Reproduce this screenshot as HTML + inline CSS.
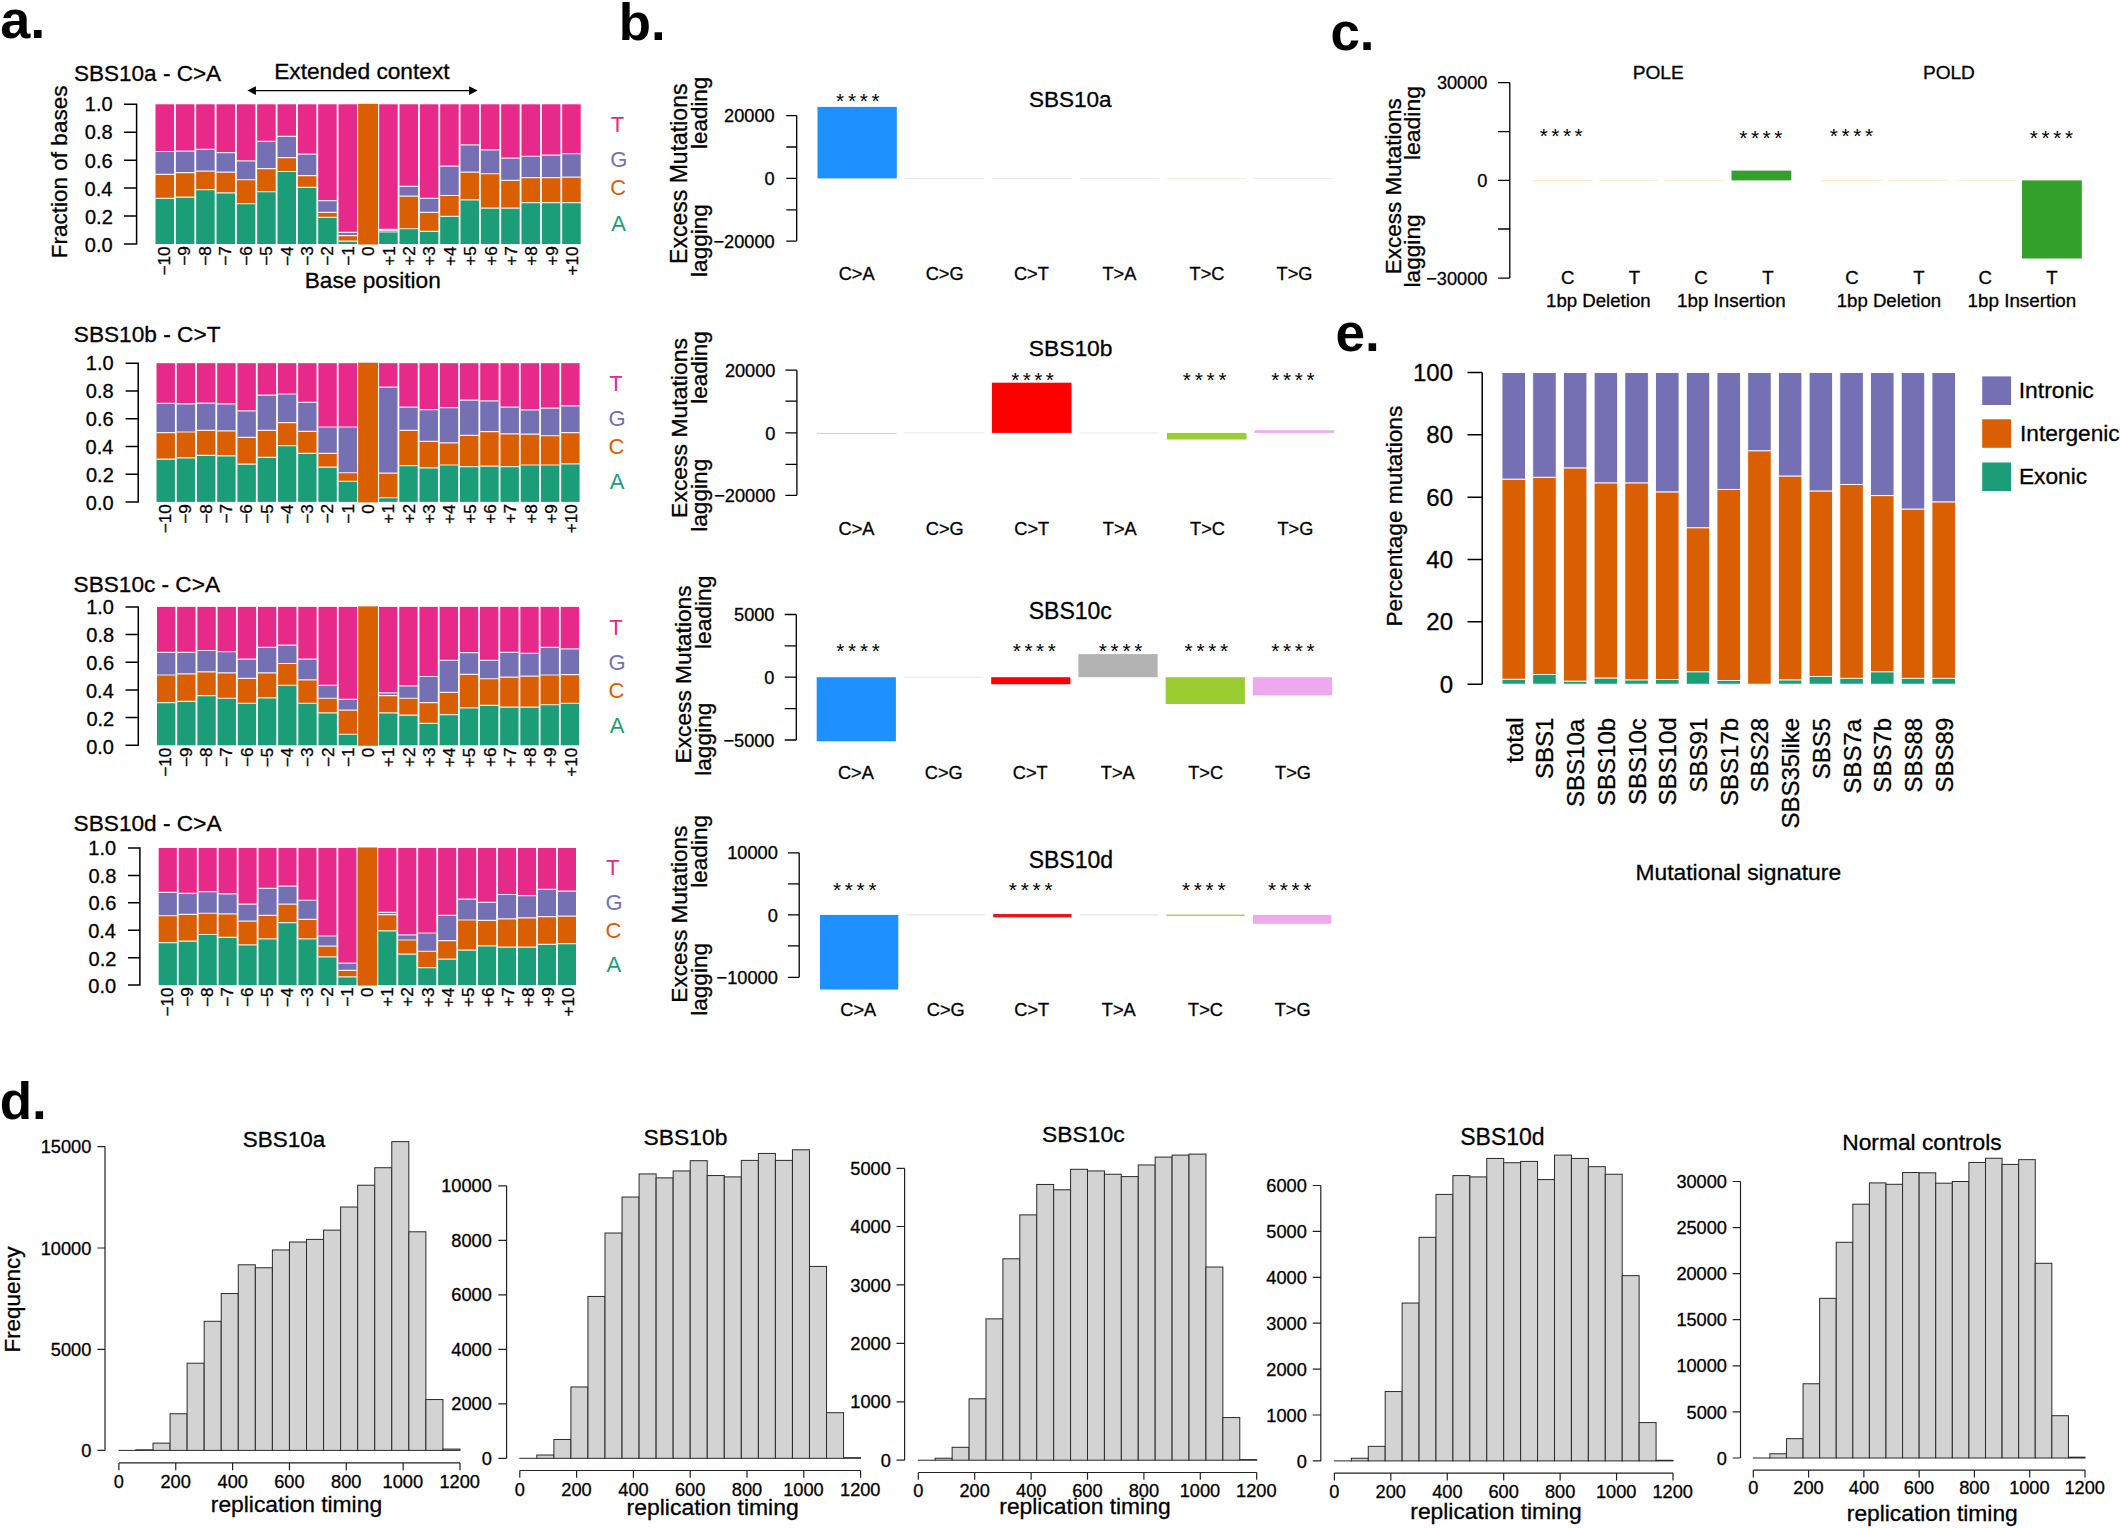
<!DOCTYPE html>
<html lang="en"><head><meta charset="utf-8"><title>Figure</title>
<style>
html,body{margin:0;padding:0;background:#fff;}
body{width:2120px;height:1528px;overflow:hidden;}
svg{display:block;font-family:"Liberation Sans",sans-serif;}
text{stroke:currentColor;stroke-width:0;}
.k text{stroke:#000;stroke-width:0.3px;}
#labels text{stroke-width:0;}
</style></head><body>
<svg width="2120" height="1528" viewBox="0 0 2120 1528" shape-rendering="auto">
<rect x="0" y="0" width="2120" height="1528" fill="#fff"/>
<g class="k">
<g id="pa">
<rect x="155.5" y="198.32" width="18.53" height="45.68" fill="#1B9E77"/>
<rect x="155.5" y="174.43" width="18.53" height="23.89" fill="#D95F02"/>
<rect x="155.5" y="151.52" width="18.53" height="22.91" fill="#7570B3"/>
<rect x="155.5" y="104.3" width="18.53" height="47.22" fill="#E7298A"/>
<rect x="175.83" y="197.2" width="18.53" height="46.8" fill="#1B9E77"/>
<rect x="175.83" y="172.61" width="18.53" height="24.59" fill="#D95F02"/>
<rect x="175.83" y="151.1" width="18.53" height="21.51" fill="#7570B3"/>
<rect x="175.83" y="104.3" width="18.53" height="46.8" fill="#E7298A"/>
<rect x="196.17" y="189.66" width="18.53" height="54.34" fill="#1B9E77"/>
<rect x="196.17" y="171.08" width="18.53" height="18.58" fill="#D95F02"/>
<rect x="196.17" y="149.28" width="18.53" height="21.79" fill="#7570B3"/>
<rect x="196.17" y="104.3" width="18.53" height="44.98" fill="#E7298A"/>
<rect x="216.5" y="192.87" width="18.53" height="51.13" fill="#1B9E77"/>
<rect x="216.5" y="172.19" width="18.53" height="20.68" fill="#D95F02"/>
<rect x="216.5" y="152.64" width="18.53" height="19.56" fill="#7570B3"/>
<rect x="216.5" y="104.3" width="18.53" height="48.34" fill="#E7298A"/>
<rect x="236.83" y="203.77" width="18.53" height="40.23" fill="#1B9E77"/>
<rect x="236.83" y="179.74" width="18.53" height="24.03" fill="#D95F02"/>
<rect x="236.83" y="160.88" width="18.53" height="18.86" fill="#7570B3"/>
<rect x="236.83" y="104.3" width="18.53" height="56.58" fill="#E7298A"/>
<rect x="257.17" y="191.75" width="18.53" height="52.25" fill="#1B9E77"/>
<rect x="257.17" y="168.56" width="18.53" height="23.19" fill="#D95F02"/>
<rect x="257.17" y="141.32" width="18.53" height="27.24" fill="#7570B3"/>
<rect x="257.17" y="104.3" width="18.53" height="37.02" fill="#E7298A"/>
<rect x="277.5" y="171.5" width="18.53" height="72.5" fill="#1B9E77"/>
<rect x="277.5" y="157.67" width="18.53" height="13.83" fill="#D95F02"/>
<rect x="277.5" y="136.29" width="18.53" height="21.37" fill="#7570B3"/>
<rect x="277.5" y="104.3" width="18.53" height="31.99" fill="#E7298A"/>
<rect x="297.83" y="187.42" width="18.53" height="56.58" fill="#1B9E77"/>
<rect x="297.83" y="175.55" width="18.53" height="11.87" fill="#D95F02"/>
<rect x="297.83" y="154.17" width="18.53" height="21.37" fill="#7570B3"/>
<rect x="297.83" y="104.3" width="18.53" height="49.87" fill="#E7298A"/>
<rect x="318.17" y="217.46" width="18.53" height="26.54" fill="#1B9E77"/>
<rect x="318.17" y="212.43" width="18.53" height="5.03" fill="#D95F02"/>
<rect x="318.17" y="200.69" width="18.53" height="11.73" fill="#7570B3"/>
<rect x="318.17" y="104.3" width="18.53" height="96.39" fill="#E7298A"/>
<rect x="338.5" y="241.21" width="18.53" height="2.79" fill="#1B9E77"/>
<rect x="338.5" y="235.62" width="18.53" height="5.59" fill="#D95F02"/>
<rect x="338.5" y="232.4" width="18.53" height="3.21" fill="#7570B3"/>
<rect x="338.5" y="104.3" width="18.53" height="128.1" fill="#E7298A"/>
<rect x="358.13" y="103.8" width="19.93" height="140.7" fill="#D95F02"/>
<rect x="379.17" y="231.99" width="18.53" height="12.01" fill="#1B9E77"/>
<rect x="379.17" y="230.31" width="18.53" height="1.68" fill="#D95F02"/>
<rect x="379.17" y="229.47" width="18.53" height="0.84" fill="#7570B3"/>
<rect x="379.17" y="104.3" width="18.53" height="125.17" fill="#E7298A"/>
<rect x="399.5" y="228.77" width="18.53" height="15.23" fill="#1B9E77"/>
<rect x="399.5" y="196.08" width="18.53" height="32.69" fill="#D95F02"/>
<rect x="399.5" y="186.3" width="18.53" height="9.78" fill="#7570B3"/>
<rect x="399.5" y="104.3" width="18.53" height="82" fill="#E7298A"/>
<rect x="419.83" y="231.43" width="18.53" height="12.57" fill="#1B9E77"/>
<rect x="419.83" y="212.43" width="18.53" height="19" fill="#D95F02"/>
<rect x="419.83" y="198.32" width="18.53" height="14.11" fill="#7570B3"/>
<rect x="419.83" y="104.3" width="18.53" height="94.02" fill="#E7298A"/>
<rect x="440.17" y="216.34" width="18.53" height="27.66" fill="#1B9E77"/>
<rect x="440.17" y="195.52" width="18.53" height="20.82" fill="#D95F02"/>
<rect x="440.17" y="166.05" width="18.53" height="29.48" fill="#7570B3"/>
<rect x="440.17" y="104.3" width="18.53" height="61.75" fill="#E7298A"/>
<rect x="460.5" y="199.85" width="18.53" height="44.15" fill="#1B9E77"/>
<rect x="460.5" y="172.19" width="18.53" height="27.66" fill="#D95F02"/>
<rect x="460.5" y="144.95" width="18.53" height="27.24" fill="#7570B3"/>
<rect x="460.5" y="104.3" width="18.53" height="40.65" fill="#E7298A"/>
<rect x="480.83" y="208.1" width="18.53" height="35.9" fill="#1B9E77"/>
<rect x="480.83" y="173.73" width="18.53" height="34.37" fill="#D95F02"/>
<rect x="480.83" y="149.84" width="18.53" height="23.89" fill="#7570B3"/>
<rect x="480.83" y="104.3" width="18.53" height="45.54" fill="#E7298A"/>
<rect x="501.17" y="208.1" width="18.53" height="35.9" fill="#1B9E77"/>
<rect x="501.17" y="180.44" width="18.53" height="27.66" fill="#D95F02"/>
<rect x="501.17" y="158.08" width="18.53" height="22.35" fill="#7570B3"/>
<rect x="501.17" y="104.3" width="18.53" height="53.78" fill="#E7298A"/>
<rect x="521.5" y="202.65" width="18.53" height="41.35" fill="#1B9E77"/>
<rect x="521.5" y="177.64" width="18.53" height="25.01" fill="#D95F02"/>
<rect x="521.5" y="156.27" width="18.53" height="21.37" fill="#7570B3"/>
<rect x="521.5" y="104.3" width="18.53" height="51.97" fill="#E7298A"/>
<rect x="541.83" y="202.65" width="18.53" height="41.35" fill="#1B9E77"/>
<rect x="541.83" y="177.64" width="18.53" height="25.01" fill="#D95F02"/>
<rect x="541.83" y="155.15" width="18.53" height="22.49" fill="#7570B3"/>
<rect x="541.83" y="104.3" width="18.53" height="50.85" fill="#E7298A"/>
<rect x="562.17" y="202.65" width="18.53" height="41.35" fill="#1B9E77"/>
<rect x="562.17" y="177.22" width="18.53" height="25.43" fill="#D95F02"/>
<rect x="562.17" y="153.75" width="18.53" height="23.47" fill="#7570B3"/>
<rect x="562.17" y="104.3" width="18.53" height="49.45" fill="#E7298A"/>
<path d="M155.5 198.32h18.53M155.5 174.43h18.53M155.5 151.52h18.53M175.83 197.2h18.53M175.83 172.61h18.53M175.83 151.1h18.53M196.17 189.66h18.53M196.17 171.08h18.53M196.17 149.28h18.53M216.5 192.87h18.53M216.5 172.19h18.53M216.5 152.64h18.53M236.83 203.77h18.53M236.83 179.74h18.53M236.83 160.88h18.53M257.17 191.75h18.53M257.17 168.56h18.53M257.17 141.32h18.53M277.5 171.5h18.53M277.5 157.67h18.53M277.5 136.29h18.53M297.83 187.42h18.53M297.83 175.55h18.53M297.83 154.17h18.53M318.17 217.46h18.53M318.17 212.43h18.53M318.17 200.69h18.53M338.5 241.21h18.53M338.5 235.62h18.53M338.5 232.4h18.53M379.17 231.99h18.53M379.17 230.31h18.53M379.17 229.47h18.53M399.5 228.77h18.53M399.5 196.08h18.53M399.5 186.3h18.53M419.83 231.43h18.53M419.83 212.43h18.53M419.83 198.32h18.53M440.17 216.34h18.53M440.17 195.52h18.53M440.17 166.05h18.53M460.5 199.85h18.53M460.5 172.19h18.53M460.5 144.95h18.53M480.83 208.1h18.53M480.83 173.73h18.53M480.83 149.84h18.53M501.17 208.1h18.53M501.17 180.44h18.53M501.17 158.08h18.53M521.5 202.65h18.53M521.5 177.64h18.53M521.5 156.27h18.53M541.83 202.65h18.53M541.83 177.64h18.53M541.83 155.15h18.53M562.17 202.65h18.53M562.17 177.22h18.53M562.17 153.75h18.53" stroke="#fff" stroke-width="1.2" stroke-opacity="0.85" fill="none"/>
<path d="M123.9 104.3H136.6V244H123.9M123.9 216.06H136.6M123.9 188.12H136.6M123.9 160.18H136.6M123.9 132.24H136.6" stroke="#000" stroke-width="1.5" fill="none"/>
<text transform="translate(84.76,252.2)" font-size="20" fill="#000">0.0</text>
<text transform="translate(85,224.02)" font-size="20" fill="#000">0.2</text>
<text transform="translate(84.58,195.84)" font-size="20" fill="#000">0.4</text>
<text transform="translate(84.86,167.66)" font-size="20" fill="#000">0.6</text>
<text transform="translate(84.86,139.48)" font-size="20" fill="#000">0.8</text>
<text transform="translate(84.76,111.3)" font-size="20" fill="#000">1.0</text>
<text transform="translate(73.88,81.1)" font-size="22.56" fill="#000">SBS10a - C&gt;A</text>
<text transform="translate(170.07,275.45) rotate(-90) scale(1.0400,1)" font-size="16.5" fill="#000">−10</text>
<text transform="translate(190.47,265.76) rotate(-90) scale(1.0400,1)" font-size="16.5" fill="#000">−9</text>
<text transform="translate(210.88,265.82) rotate(-90) scale(1.0400,1)" font-size="16.5" fill="#000">−8</text>
<text transform="translate(231.29,265.7) rotate(-90) scale(1.0400,1)" font-size="16.5" fill="#000">−7</text>
<text transform="translate(251.7,265.82) rotate(-90) scale(1.0400,1)" font-size="16.5" fill="#000">−6</text>
<text transform="translate(272.11,265.86) rotate(-90) scale(1.0400,1)" font-size="16.5" fill="#000">−5</text>
<text transform="translate(292.52,266.06) rotate(-90) scale(1.0400,1)" font-size="16.5" fill="#000">−4</text>
<text transform="translate(312.93,265.82) rotate(-90) scale(1.0400,1)" font-size="16.5" fill="#000">−3</text>
<text transform="translate(333.33,265.7) rotate(-90) scale(1.0400,1)" font-size="16.5" fill="#000">−2</text>
<text transform="translate(353.74,265.74) rotate(-90) scale(1.0400,1)" font-size="16.5" fill="#000">−1</text>
<text transform="translate(374.15,255.89) rotate(-90) scale(1.0400,1)" font-size="16.5" fill="#000">0</text>
<text transform="translate(394.56,265.74) rotate(-90) scale(1.0400,1)" font-size="16.5" fill="#000">+1</text>
<text transform="translate(414.97,265.7) rotate(-90) scale(1.0400,1)" font-size="16.5" fill="#000">+2</text>
<text transform="translate(435.38,265.82) rotate(-90) scale(1.0400,1)" font-size="16.5" fill="#000">+3</text>
<text transform="translate(455.78,266.06) rotate(-90) scale(1.0400,1)" font-size="16.5" fill="#000">+4</text>
<text transform="translate(476.19,265.86) rotate(-90) scale(1.0400,1)" font-size="16.5" fill="#000">+5</text>
<text transform="translate(496.6,265.82) rotate(-90) scale(1.0400,1)" font-size="16.5" fill="#000">+6</text>
<text transform="translate(517.01,265.7) rotate(-90) scale(1.0400,1)" font-size="16.5" fill="#000">+7</text>
<text transform="translate(537.42,265.82) rotate(-90) scale(1.0400,1)" font-size="16.5" fill="#000">+8</text>
<text transform="translate(557.82,265.76) rotate(-90) scale(1.0400,1)" font-size="16.5" fill="#000">+9</text>
<text transform="translate(578.23,275.45) rotate(-90) scale(1.0400,1)" font-size="16.5" fill="#000">+10</text>
<text transform="translate(610.82,132.3)" font-size="22" text-anchor="start" fill="#E7298A" style="stroke:none">T</text>
<text transform="translate(610.2,166.8)" font-size="22" text-anchor="start" fill="#7570B3" style="stroke:none">G</text>
<text transform="translate(610.2,195.4)" font-size="22" text-anchor="start" fill="#D95F02" style="stroke:none">C</text>
<text transform="translate(611.26,231.3)" font-size="22" text-anchor="start" fill="#1B9E77" style="stroke:none">A</text>
<rect x="156.5" y="459.18" width="18.43" height="42.72" fill="#1B9E77"/>
<rect x="156.5" y="432.69" width="18.43" height="26.49" fill="#D95F02"/>
<rect x="156.5" y="403.42" width="18.43" height="29.27" fill="#7570B3"/>
<rect x="156.5" y="363.2" width="18.43" height="40.22" fill="#E7298A"/>
<rect x="176.73" y="457.79" width="18.43" height="44.11" fill="#1B9E77"/>
<rect x="176.73" y="432" width="18.43" height="25.8" fill="#D95F02"/>
<rect x="176.73" y="403.84" width="18.43" height="28.16" fill="#7570B3"/>
<rect x="176.73" y="363.2" width="18.43" height="40.64" fill="#E7298A"/>
<rect x="196.97" y="455.3" width="18.43" height="46.6" fill="#1B9E77"/>
<rect x="196.97" y="430.33" width="18.43" height="24.97" fill="#D95F02"/>
<rect x="196.97" y="403.15" width="18.43" height="27.19" fill="#7570B3"/>
<rect x="196.97" y="363.2" width="18.43" height="39.95" fill="#E7298A"/>
<rect x="217.2" y="455.85" width="18.43" height="46.05" fill="#1B9E77"/>
<rect x="217.2" y="430.89" width="18.43" height="24.97" fill="#D95F02"/>
<rect x="217.2" y="403.84" width="18.43" height="27.05" fill="#7570B3"/>
<rect x="217.2" y="363.2" width="18.43" height="40.64" fill="#E7298A"/>
<rect x="237.43" y="464.17" width="18.43" height="37.73" fill="#1B9E77"/>
<rect x="237.43" y="437.4" width="18.43" height="26.77" fill="#D95F02"/>
<rect x="237.43" y="410.91" width="18.43" height="26.49" fill="#7570B3"/>
<rect x="237.43" y="363.2" width="18.43" height="47.71" fill="#E7298A"/>
<rect x="257.67" y="457.38" width="18.43" height="44.52" fill="#1B9E77"/>
<rect x="257.67" y="430.47" width="18.43" height="26.91" fill="#D95F02"/>
<rect x="257.67" y="395.1" width="18.43" height="35.37" fill="#7570B3"/>
<rect x="257.67" y="363.2" width="18.43" height="31.9" fill="#E7298A"/>
<rect x="277.9" y="445.73" width="18.43" height="56.17" fill="#1B9E77"/>
<rect x="277.9" y="422.7" width="18.43" height="23.02" fill="#D95F02"/>
<rect x="277.9" y="393.99" width="18.43" height="28.71" fill="#7570B3"/>
<rect x="277.9" y="363.2" width="18.43" height="30.79" fill="#E7298A"/>
<rect x="298.13" y="453.35" width="18.43" height="48.54" fill="#1B9E77"/>
<rect x="298.13" y="431.3" width="18.43" height="22.05" fill="#D95F02"/>
<rect x="298.13" y="402.31" width="18.43" height="28.99" fill="#7570B3"/>
<rect x="298.13" y="363.2" width="18.43" height="39.11" fill="#E7298A"/>
<rect x="318.37" y="467.22" width="18.43" height="34.67" fill="#1B9E77"/>
<rect x="318.37" y="453.35" width="18.43" height="13.87" fill="#D95F02"/>
<rect x="318.37" y="427" width="18.43" height="26.35" fill="#7570B3"/>
<rect x="318.37" y="363.2" width="18.43" height="63.8" fill="#E7298A"/>
<rect x="338.6" y="481.23" width="18.43" height="20.67" fill="#1B9E77"/>
<rect x="338.6" y="472.77" width="18.43" height="8.46" fill="#D95F02"/>
<rect x="338.6" y="427" width="18.43" height="45.77" fill="#7570B3"/>
<rect x="338.6" y="363.2" width="18.43" height="63.8" fill="#E7298A"/>
<rect x="358.13" y="362.7" width="19.83" height="139.7" fill="#D95F02"/>
<rect x="379.07" y="497.74" width="18.43" height="4.16" fill="#1B9E77"/>
<rect x="379.07" y="473.19" width="18.43" height="24.55" fill="#D95F02"/>
<rect x="379.07" y="387.06" width="18.43" height="86.13" fill="#7570B3"/>
<rect x="379.07" y="363.2" width="18.43" height="23.86" fill="#E7298A"/>
<rect x="399.3" y="465.7" width="18.43" height="36.2" fill="#1B9E77"/>
<rect x="399.3" y="430.33" width="18.43" height="35.37" fill="#D95F02"/>
<rect x="399.3" y="407.03" width="18.43" height="23.3" fill="#7570B3"/>
<rect x="399.3" y="363.2" width="18.43" height="43.83" fill="#E7298A"/>
<rect x="419.53" y="467.78" width="18.43" height="34.12" fill="#1B9E77"/>
<rect x="419.53" y="441.29" width="18.43" height="26.49" fill="#D95F02"/>
<rect x="419.53" y="409.66" width="18.43" height="31.62" fill="#7570B3"/>
<rect x="419.53" y="363.2" width="18.43" height="46.46" fill="#E7298A"/>
<rect x="439.77" y="465.01" width="18.43" height="36.89" fill="#1B9E77"/>
<rect x="439.77" y="442.81" width="18.43" height="22.19" fill="#D95F02"/>
<rect x="439.77" y="407.72" width="18.43" height="35.09" fill="#7570B3"/>
<rect x="439.77" y="363.2" width="18.43" height="44.52" fill="#E7298A"/>
<rect x="460" y="466.67" width="18.43" height="35.23" fill="#1B9E77"/>
<rect x="460" y="435.32" width="18.43" height="31.35" fill="#D95F02"/>
<rect x="460" y="400.09" width="18.43" height="35.23" fill="#7570B3"/>
<rect x="460" y="363.2" width="18.43" height="36.89" fill="#E7298A"/>
<rect x="480.23" y="466.12" width="18.43" height="35.78" fill="#1B9E77"/>
<rect x="480.23" y="431.58" width="18.43" height="34.54" fill="#D95F02"/>
<rect x="480.23" y="400.93" width="18.43" height="30.65" fill="#7570B3"/>
<rect x="480.23" y="363.2" width="18.43" height="37.73" fill="#E7298A"/>
<rect x="500.47" y="466.67" width="18.43" height="35.23" fill="#1B9E77"/>
<rect x="500.47" y="433.8" width="18.43" height="32.87" fill="#D95F02"/>
<rect x="500.47" y="407.03" width="18.43" height="26.77" fill="#7570B3"/>
<rect x="500.47" y="363.2" width="18.43" height="43.83" fill="#E7298A"/>
<rect x="520.7" y="465.01" width="18.43" height="36.89" fill="#1B9E77"/>
<rect x="520.7" y="434.21" width="18.43" height="30.79" fill="#D95F02"/>
<rect x="520.7" y="409.8" width="18.43" height="24.41" fill="#7570B3"/>
<rect x="520.7" y="363.2" width="18.43" height="46.6" fill="#E7298A"/>
<rect x="540.93" y="465.01" width="18.43" height="36.89" fill="#1B9E77"/>
<rect x="540.93" y="435.74" width="18.43" height="29.27" fill="#D95F02"/>
<rect x="540.93" y="408.14" width="18.43" height="27.6" fill="#7570B3"/>
<rect x="540.93" y="363.2" width="18.43" height="44.94" fill="#E7298A"/>
<rect x="561.17" y="463.9" width="18.43" height="38" fill="#1B9E77"/>
<rect x="561.17" y="432.55" width="18.43" height="31.35" fill="#D95F02"/>
<rect x="561.17" y="405.92" width="18.43" height="26.63" fill="#7570B3"/>
<rect x="561.17" y="363.2" width="18.43" height="42.72" fill="#E7298A"/>
<path d="M156.5 459.18h18.43M156.5 432.69h18.43M156.5 403.42h18.43M176.73 457.79h18.43M176.73 432h18.43M176.73 403.84h18.43M196.97 455.3h18.43M196.97 430.33h18.43M196.97 403.15h18.43M217.2 455.85h18.43M217.2 430.89h18.43M217.2 403.84h18.43M237.43 464.17h18.43M237.43 437.4h18.43M237.43 410.91h18.43M257.67 457.38h18.43M257.67 430.47h18.43M257.67 395.1h18.43M277.9 445.73h18.43M277.9 422.7h18.43M277.9 393.99h18.43M298.13 453.35h18.43M298.13 431.3h18.43M298.13 402.31h18.43M318.37 467.22h18.43M318.37 453.35h18.43M318.37 427h18.43M338.6 481.23h18.43M338.6 472.77h18.43M338.6 427h18.43M379.07 497.74h18.43M379.07 473.19h18.43M379.07 387.06h18.43M399.3 465.7h18.43M399.3 430.33h18.43M399.3 407.03h18.43M419.53 467.78h18.43M419.53 441.29h18.43M419.53 409.66h18.43M439.77 465.01h18.43M439.77 442.81h18.43M439.77 407.72h18.43M460 466.67h18.43M460 435.32h18.43M460 400.09h18.43M480.23 466.12h18.43M480.23 431.58h18.43M480.23 400.93h18.43M500.47 466.67h18.43M500.47 433.8h18.43M500.47 407.03h18.43M520.7 465.01h18.43M520.7 434.21h18.43M520.7 409.8h18.43M540.93 465.01h18.43M540.93 435.74h18.43M540.93 408.14h18.43M561.17 463.9h18.43M561.17 432.55h18.43M561.17 405.92h18.43" stroke="#fff" stroke-width="1.2" stroke-opacity="0.85" fill="none"/>
<path d="M125.6 363.2H138.2V501.9H125.6M125.6 474.16H138.2M125.6 446.42H138.2M125.6 418.68H138.2M125.6 390.94H138.2" stroke="#000" stroke-width="1.5" fill="none"/>
<text transform="translate(85.76,510.1)" font-size="20" fill="#000">0.0</text>
<text transform="translate(86,482.12)" font-size="20" fill="#000">0.2</text>
<text transform="translate(85.58,454.14)" font-size="20" fill="#000">0.4</text>
<text transform="translate(85.86,426.16)" font-size="20" fill="#000">0.6</text>
<text transform="translate(85.86,398.18)" font-size="20" fill="#000">0.8</text>
<text transform="translate(85.76,370.2)" font-size="20" fill="#000">1.0</text>
<text transform="translate(73.78,341.9)" font-size="22.66" fill="#000">SBS10b - C&gt;T</text>
<text transform="translate(171.02,533.35) rotate(-90) scale(1.0400,1)" font-size="16.5" fill="#000">−10</text>
<text transform="translate(191.32,523.66) rotate(-90) scale(1.0400,1)" font-size="16.5" fill="#000">−9</text>
<text transform="translate(211.63,523.72) rotate(-90) scale(1.0400,1)" font-size="16.5" fill="#000">−8</text>
<text transform="translate(231.94,523.6) rotate(-90) scale(1.0400,1)" font-size="16.5" fill="#000">−7</text>
<text transform="translate(252.25,523.72) rotate(-90) scale(1.0400,1)" font-size="16.5" fill="#000">−6</text>
<text transform="translate(272.56,523.76) rotate(-90) scale(1.0400,1)" font-size="16.5" fill="#000">−5</text>
<text transform="translate(292.87,523.96) rotate(-90) scale(1.0400,1)" font-size="16.5" fill="#000">−4</text>
<text transform="translate(313.17,523.72) rotate(-90) scale(1.0400,1)" font-size="16.5" fill="#000">−3</text>
<text transform="translate(333.48,523.6) rotate(-90) scale(1.0400,1)" font-size="16.5" fill="#000">−2</text>
<text transform="translate(353.79,523.64) rotate(-90) scale(1.0400,1)" font-size="16.5" fill="#000">−1</text>
<text transform="translate(374.1,513.79) rotate(-90) scale(1.0400,1)" font-size="16.5" fill="#000">0</text>
<text transform="translate(394.41,523.64) rotate(-90) scale(1.0400,1)" font-size="16.5" fill="#000">+1</text>
<text transform="translate(414.72,523.6) rotate(-90) scale(1.0400,1)" font-size="16.5" fill="#000">+2</text>
<text transform="translate(435.03,523.72) rotate(-90) scale(1.0400,1)" font-size="16.5" fill="#000">+3</text>
<text transform="translate(455.33,523.96) rotate(-90) scale(1.0400,1)" font-size="16.5" fill="#000">+4</text>
<text transform="translate(475.64,523.76) rotate(-90) scale(1.0400,1)" font-size="16.5" fill="#000">+5</text>
<text transform="translate(495.95,523.72) rotate(-90) scale(1.0400,1)" font-size="16.5" fill="#000">+6</text>
<text transform="translate(516.26,523.6) rotate(-90) scale(1.0400,1)" font-size="16.5" fill="#000">+7</text>
<text transform="translate(536.57,523.72) rotate(-90) scale(1.0400,1)" font-size="16.5" fill="#000">+8</text>
<text transform="translate(556.87,523.66) rotate(-90) scale(1.0400,1)" font-size="16.5" fill="#000">+9</text>
<text transform="translate(577.18,533.35) rotate(-90) scale(1.0400,1)" font-size="16.5" fill="#000">+10</text>
<text transform="translate(609.22,390.6)" font-size="22" text-anchor="start" fill="#E7298A" style="stroke:none">T</text>
<text transform="translate(608.6,426)" font-size="22" text-anchor="start" fill="#7570B3" style="stroke:none">G</text>
<text transform="translate(608.6,454.1)" font-size="22" text-anchor="start" fill="#D95F02" style="stroke:none">C</text>
<text transform="translate(609.66,489)" font-size="22" text-anchor="start" fill="#1B9E77" style="stroke:none">A</text>
<rect x="157" y="702.53" width="18.39" height="42.77" fill="#1B9E77"/>
<rect x="157" y="674.99" width="18.39" height="27.54" fill="#D95F02"/>
<rect x="157" y="652.3" width="18.39" height="22.7" fill="#7570B3"/>
<rect x="157" y="606.9" width="18.39" height="45.4" fill="#E7298A"/>
<rect x="177.19" y="701.43" width="18.39" height="43.87" fill="#1B9E77"/>
<rect x="177.19" y="673.89" width="18.39" height="27.54" fill="#D95F02"/>
<rect x="177.19" y="652.3" width="18.39" height="21.59" fill="#7570B3"/>
<rect x="177.19" y="606.9" width="18.39" height="45.4" fill="#E7298A"/>
<rect x="197.37" y="695.61" width="18.39" height="49.69" fill="#1B9E77"/>
<rect x="197.37" y="671.81" width="18.39" height="23.8" fill="#D95F02"/>
<rect x="197.37" y="650.5" width="18.39" height="21.31" fill="#7570B3"/>
<rect x="197.37" y="606.9" width="18.39" height="43.6" fill="#E7298A"/>
<rect x="217.56" y="698.24" width="18.39" height="47.06" fill="#1B9E77"/>
<rect x="217.56" y="672.78" width="18.39" height="25.47" fill="#D95F02"/>
<rect x="217.56" y="651.74" width="18.39" height="21.04" fill="#7570B3"/>
<rect x="217.56" y="606.9" width="18.39" height="44.84" fill="#E7298A"/>
<rect x="237.74" y="703.23" width="18.39" height="42.07" fill="#1B9E77"/>
<rect x="237.74" y="678.31" width="18.39" height="24.91" fill="#D95F02"/>
<rect x="237.74" y="659.22" width="18.39" height="19.1" fill="#7570B3"/>
<rect x="237.74" y="606.9" width="18.39" height="52.32" fill="#E7298A"/>
<rect x="257.93" y="697.83" width="18.39" height="47.47" fill="#1B9E77"/>
<rect x="257.93" y="672.78" width="18.39" height="25.05" fill="#D95F02"/>
<rect x="257.93" y="647.31" width="18.39" height="25.47" fill="#7570B3"/>
<rect x="257.93" y="606.9" width="18.39" height="40.41" fill="#E7298A"/>
<rect x="278.11" y="685.23" width="18.39" height="60.07" fill="#1B9E77"/>
<rect x="278.11" y="663.51" width="18.39" height="21.73" fill="#D95F02"/>
<rect x="278.11" y="645.1" width="18.39" height="18.41" fill="#7570B3"/>
<rect x="278.11" y="606.9" width="18.39" height="38.2" fill="#E7298A"/>
<rect x="298.3" y="703.23" width="18.39" height="42.07" fill="#1B9E77"/>
<rect x="298.3" y="679.84" width="18.39" height="23.39" fill="#D95F02"/>
<rect x="298.3" y="659.22" width="18.39" height="20.62" fill="#7570B3"/>
<rect x="298.3" y="606.9" width="18.39" height="52.32" fill="#E7298A"/>
<rect x="318.49" y="712.91" width="18.39" height="32.39" fill="#1B9E77"/>
<rect x="318.49" y="698.24" width="18.39" height="14.67" fill="#D95F02"/>
<rect x="318.49" y="685.37" width="18.39" height="12.87" fill="#7570B3"/>
<rect x="318.49" y="606.9" width="18.39" height="78.47" fill="#E7298A"/>
<rect x="338.67" y="734.23" width="18.39" height="11.07" fill="#1B9E77"/>
<rect x="338.67" y="710.15" width="18.39" height="24.08" fill="#D95F02"/>
<rect x="338.67" y="699.35" width="18.39" height="10.8" fill="#7570B3"/>
<rect x="338.67" y="606.9" width="18.39" height="92.45" fill="#E7298A"/>
<rect x="358.16" y="606.4" width="19.79" height="139.4" fill="#D95F02"/>
<rect x="379.04" y="712.91" width="18.39" height="32.39" fill="#1B9E77"/>
<rect x="379.04" y="695.61" width="18.39" height="17.3" fill="#D95F02"/>
<rect x="379.04" y="692.85" width="18.39" height="2.77" fill="#7570B3"/>
<rect x="379.04" y="606.9" width="18.39" height="85.95" fill="#E7298A"/>
<rect x="399.23" y="715.13" width="18.39" height="30.17" fill="#1B9E77"/>
<rect x="399.23" y="698.24" width="18.39" height="16.88" fill="#D95F02"/>
<rect x="399.23" y="685.93" width="18.39" height="12.32" fill="#7570B3"/>
<rect x="399.23" y="606.9" width="18.39" height="79.03" fill="#E7298A"/>
<rect x="419.41" y="723.43" width="18.39" height="21.87" fill="#1B9E77"/>
<rect x="419.41" y="702.53" width="18.39" height="20.9" fill="#D95F02"/>
<rect x="419.41" y="676.52" width="18.39" height="26.02" fill="#7570B3"/>
<rect x="419.41" y="606.9" width="18.39" height="69.62" fill="#E7298A"/>
<rect x="439.6" y="714.71" width="18.39" height="30.59" fill="#1B9E77"/>
<rect x="439.6" y="692.43" width="18.39" height="22.28" fill="#D95F02"/>
<rect x="439.6" y="660.32" width="18.39" height="32.11" fill="#7570B3"/>
<rect x="439.6" y="606.9" width="18.39" height="53.42" fill="#E7298A"/>
<rect x="459.79" y="707.93" width="18.39" height="37.37" fill="#1B9E77"/>
<rect x="459.79" y="674.3" width="18.39" height="33.63" fill="#D95F02"/>
<rect x="459.79" y="652.71" width="18.39" height="21.59" fill="#7570B3"/>
<rect x="459.79" y="606.9" width="18.39" height="45.81" fill="#E7298A"/>
<rect x="479.97" y="705.44" width="18.39" height="39.86" fill="#1B9E77"/>
<rect x="479.97" y="678.73" width="18.39" height="26.71" fill="#D95F02"/>
<rect x="479.97" y="660.32" width="18.39" height="18.41" fill="#7570B3"/>
<rect x="479.97" y="606.9" width="18.39" height="53.42" fill="#E7298A"/>
<rect x="500.16" y="707.1" width="18.39" height="38.2" fill="#1B9E77"/>
<rect x="500.16" y="677.21" width="18.39" height="29.89" fill="#D95F02"/>
<rect x="500.16" y="652.3" width="18.39" height="24.91" fill="#7570B3"/>
<rect x="500.16" y="606.9" width="18.39" height="45.4" fill="#E7298A"/>
<rect x="520.34" y="707.1" width="18.39" height="38.2" fill="#1B9E77"/>
<rect x="520.34" y="676.1" width="18.39" height="31" fill="#D95F02"/>
<rect x="520.34" y="653.26" width="18.39" height="22.84" fill="#7570B3"/>
<rect x="520.34" y="606.9" width="18.39" height="46.36" fill="#E7298A"/>
<rect x="540.53" y="704.75" width="18.39" height="40.55" fill="#1B9E77"/>
<rect x="540.53" y="674.99" width="18.39" height="29.76" fill="#D95F02"/>
<rect x="540.53" y="647.31" width="18.39" height="27.68" fill="#7570B3"/>
<rect x="540.53" y="606.9" width="18.39" height="40.41" fill="#E7298A"/>
<rect x="560.71" y="703.23" width="18.39" height="42.07" fill="#1B9E77"/>
<rect x="560.71" y="674.58" width="18.39" height="28.65" fill="#D95F02"/>
<rect x="560.71" y="648.97" width="18.39" height="25.6" fill="#7570B3"/>
<rect x="560.71" y="606.9" width="18.39" height="42.07" fill="#E7298A"/>
<path d="M157 702.53h18.39M157 674.99h18.39M157 652.3h18.39M177.19 701.43h18.39M177.19 673.89h18.39M177.19 652.3h18.39M197.37 695.61h18.39M197.37 671.81h18.39M197.37 650.5h18.39M217.56 698.24h18.39M217.56 672.78h18.39M217.56 651.74h18.39M237.74 703.23h18.39M237.74 678.31h18.39M237.74 659.22h18.39M257.93 697.83h18.39M257.93 672.78h18.39M257.93 647.31h18.39M278.11 685.23h18.39M278.11 663.51h18.39M278.11 645.1h18.39M298.3 703.23h18.39M298.3 679.84h18.39M298.3 659.22h18.39M318.49 712.91h18.39M318.49 698.24h18.39M318.49 685.37h18.39M338.67 734.23h18.39M338.67 710.15h18.39M338.67 699.35h18.39M379.04 712.91h18.39M379.04 695.61h18.39M379.04 692.85h18.39M399.23 715.13h18.39M399.23 698.24h18.39M399.23 685.93h18.39M419.41 723.43h18.39M419.41 702.53h18.39M419.41 676.52h18.39M439.6 714.71h18.39M439.6 692.43h18.39M439.6 660.32h18.39M459.79 707.93h18.39M459.79 674.3h18.39M459.79 652.71h18.39M479.97 705.44h18.39M479.97 678.73h18.39M479.97 660.32h18.39M500.16 707.1h18.39M500.16 677.21h18.39M500.16 652.3h18.39M520.34 707.1h18.39M520.34 676.1h18.39M520.34 653.26h18.39M540.53 704.75h18.39M540.53 674.99h18.39M540.53 647.31h18.39M560.71 703.23h18.39M560.71 674.58h18.39M560.71 648.97h18.39" stroke="#fff" stroke-width="1.2" stroke-opacity="0.85" fill="none"/>
<path d="M125.5 606.9H138.3V745.3H125.5M125.5 717.62H138.3M125.5 689.94H138.3M125.5 662.26H138.3M125.5 634.58H138.3" stroke="#000" stroke-width="1.5" fill="none"/>
<text transform="translate(86.16,753.5)" font-size="20" fill="#000">0.0</text>
<text transform="translate(86.4,725.58)" font-size="20" fill="#000">0.2</text>
<text transform="translate(85.98,697.66)" font-size="20" fill="#000">0.4</text>
<text transform="translate(86.26,669.74)" font-size="20" fill="#000">0.6</text>
<text transform="translate(86.26,641.82)" font-size="20" fill="#000">0.8</text>
<text transform="translate(86.16,613.9)" font-size="20" fill="#000">1.0</text>
<text transform="translate(73.58,592.4)" font-size="22.62" fill="#000">SBS10c - C&gt;A</text>
<text transform="translate(171.49,776.75) rotate(-90) scale(1.0400,1)" font-size="16.5" fill="#000">−10</text>
<text transform="translate(191.75,767.06) rotate(-90) scale(1.0400,1)" font-size="16.5" fill="#000">−9</text>
<text transform="translate(212.01,767.12) rotate(-90) scale(1.0400,1)" font-size="16.5" fill="#000">−8</text>
<text transform="translate(232.28,767) rotate(-90) scale(1.0400,1)" font-size="16.5" fill="#000">−7</text>
<text transform="translate(252.54,767.12) rotate(-90) scale(1.0400,1)" font-size="16.5" fill="#000">−6</text>
<text transform="translate(272.8,767.16) rotate(-90) scale(1.0400,1)" font-size="16.5" fill="#000">−5</text>
<text transform="translate(293.06,767.36) rotate(-90) scale(1.0400,1)" font-size="16.5" fill="#000">−4</text>
<text transform="translate(313.32,767.12) rotate(-90) scale(1.0400,1)" font-size="16.5" fill="#000">−3</text>
<text transform="translate(333.58,767) rotate(-90) scale(1.0400,1)" font-size="16.5" fill="#000">−2</text>
<text transform="translate(353.84,767.04) rotate(-90) scale(1.0400,1)" font-size="16.5" fill="#000">−1</text>
<text transform="translate(374.1,757.19) rotate(-90) scale(1.0400,1)" font-size="16.5" fill="#000">0</text>
<text transform="translate(394.36,767.04) rotate(-90) scale(1.0400,1)" font-size="16.5" fill="#000">+1</text>
<text transform="translate(414.62,767) rotate(-90) scale(1.0400,1)" font-size="16.5" fill="#000">+2</text>
<text transform="translate(434.88,767.12) rotate(-90) scale(1.0400,1)" font-size="16.5" fill="#000">+3</text>
<text transform="translate(455.14,767.36) rotate(-90) scale(1.0400,1)" font-size="16.5" fill="#000">+4</text>
<text transform="translate(475.4,767.16) rotate(-90) scale(1.0400,1)" font-size="16.5" fill="#000">+5</text>
<text transform="translate(495.66,767.12) rotate(-90) scale(1.0400,1)" font-size="16.5" fill="#000">+6</text>
<text transform="translate(515.92,767) rotate(-90) scale(1.0400,1)" font-size="16.5" fill="#000">+7</text>
<text transform="translate(536.19,767.12) rotate(-90) scale(1.0400,1)" font-size="16.5" fill="#000">+8</text>
<text transform="translate(556.45,767.06) rotate(-90) scale(1.0400,1)" font-size="16.5" fill="#000">+9</text>
<text transform="translate(576.71,776.75) rotate(-90) scale(1.0400,1)" font-size="16.5" fill="#000">+10</text>
<text transform="translate(609.22,634.7)" font-size="22" text-anchor="start" fill="#E7298A" style="stroke:none">T</text>
<text transform="translate(608.6,669.7)" font-size="22" text-anchor="start" fill="#7570B3" style="stroke:none">G</text>
<text transform="translate(608.6,698)" font-size="22" text-anchor="start" fill="#D95F02" style="stroke:none">C</text>
<text transform="translate(609.66,732.6)" font-size="22" text-anchor="start" fill="#1B9E77" style="stroke:none">A</text>
<rect x="158.7" y="942.6" width="18.16" height="42.5" fill="#1B9E77"/>
<rect x="158.7" y="915.73" width="18.16" height="26.87" fill="#D95F02"/>
<rect x="158.7" y="892.28" width="18.16" height="23.44" fill="#7570B3"/>
<rect x="158.7" y="848" width="18.16" height="44.28" fill="#E7298A"/>
<rect x="178.66" y="941.09" width="18.16" height="44.01" fill="#1B9E77"/>
<rect x="178.66" y="914.36" width="18.16" height="26.73" fill="#D95F02"/>
<rect x="178.66" y="893.38" width="18.16" height="20.98" fill="#7570B3"/>
<rect x="178.66" y="848" width="18.16" height="45.38" fill="#E7298A"/>
<rect x="198.61" y="934.51" width="18.16" height="50.59" fill="#1B9E77"/>
<rect x="198.61" y="913.26" width="18.16" height="21.25" fill="#D95F02"/>
<rect x="198.61" y="891.6" width="18.16" height="21.66" fill="#7570B3"/>
<rect x="198.61" y="848" width="18.16" height="43.6" fill="#E7298A"/>
<rect x="218.57" y="937.39" width="18.16" height="47.71" fill="#1B9E77"/>
<rect x="218.57" y="913.95" width="18.16" height="23.44" fill="#D95F02"/>
<rect x="218.57" y="893.79" width="18.16" height="20.15" fill="#7570B3"/>
<rect x="218.57" y="848" width="18.16" height="45.79" fill="#E7298A"/>
<rect x="238.53" y="944.93" width="18.16" height="40.17" fill="#1B9E77"/>
<rect x="238.53" y="921.07" width="18.16" height="23.86" fill="#D95F02"/>
<rect x="238.53" y="904.21" width="18.16" height="16.86" fill="#7570B3"/>
<rect x="238.53" y="848" width="18.16" height="56.21" fill="#E7298A"/>
<rect x="258.49" y="938.9" width="18.16" height="46.2" fill="#1B9E77"/>
<rect x="258.49" y="915.45" width="18.16" height="23.44" fill="#D95F02"/>
<rect x="258.49" y="888.31" width="18.16" height="27.15" fill="#7570B3"/>
<rect x="258.49" y="848" width="18.16" height="40.31" fill="#E7298A"/>
<rect x="278.44" y="922.58" width="18.16" height="62.52" fill="#1B9E77"/>
<rect x="278.44" y="904.21" width="18.16" height="18.37" fill="#D95F02"/>
<rect x="278.44" y="886.11" width="18.16" height="18.1" fill="#7570B3"/>
<rect x="278.44" y="848" width="18.16" height="38.11" fill="#E7298A"/>
<rect x="298.4" y="938.9" width="18.16" height="46.2" fill="#1B9E77"/>
<rect x="298.4" y="919.43" width="18.16" height="19.47" fill="#D95F02"/>
<rect x="298.4" y="900.24" width="18.16" height="19.19" fill="#7570B3"/>
<rect x="298.4" y="848" width="18.16" height="52.24" fill="#E7298A"/>
<rect x="318.36" y="956.86" width="18.16" height="28.24" fill="#1B9E77"/>
<rect x="318.36" y="946.03" width="18.16" height="10.83" fill="#D95F02"/>
<rect x="318.36" y="936.02" width="18.16" height="10.01" fill="#7570B3"/>
<rect x="318.36" y="848" width="18.16" height="88.02" fill="#E7298A"/>
<rect x="338.31" y="976.87" width="18.16" height="8.23" fill="#1B9E77"/>
<rect x="338.31" y="970.29" width="18.16" height="6.58" fill="#D95F02"/>
<rect x="338.31" y="963.16" width="18.16" height="7.13" fill="#7570B3"/>
<rect x="338.31" y="848" width="18.16" height="115.16" fill="#E7298A"/>
<rect x="357.57" y="847.5" width="19.56" height="138.1" fill="#D95F02"/>
<rect x="378.23" y="930.81" width="18.16" height="54.29" fill="#1B9E77"/>
<rect x="378.23" y="914.63" width="18.16" height="16.18" fill="#D95F02"/>
<rect x="378.23" y="912.44" width="18.16" height="2.19" fill="#7570B3"/>
<rect x="378.23" y="848" width="18.16" height="64.44" fill="#E7298A"/>
<rect x="398.19" y="954.12" width="18.16" height="30.98" fill="#1B9E77"/>
<rect x="398.19" y="939.99" width="18.16" height="14.12" fill="#D95F02"/>
<rect x="398.19" y="934.92" width="18.16" height="5.07" fill="#7570B3"/>
<rect x="398.19" y="848" width="18.16" height="86.92" fill="#E7298A"/>
<rect x="418.14" y="967.55" width="18.16" height="17.55" fill="#1B9E77"/>
<rect x="418.14" y="951.24" width="18.16" height="16.31" fill="#D95F02"/>
<rect x="418.14" y="933" width="18.16" height="18.23" fill="#7570B3"/>
<rect x="418.14" y="848" width="18.16" height="85" fill="#E7298A"/>
<rect x="438.1" y="959.05" width="18.16" height="26.05" fill="#1B9E77"/>
<rect x="438.1" y="940.68" width="18.16" height="18.37" fill="#D95F02"/>
<rect x="438.1" y="915.45" width="18.16" height="25.23" fill="#7570B3"/>
<rect x="438.1" y="848" width="18.16" height="67.45" fill="#E7298A"/>
<rect x="458.06" y="950.14" width="18.16" height="34.96" fill="#1B9E77"/>
<rect x="458.06" y="919.98" width="18.16" height="30.16" fill="#D95F02"/>
<rect x="458.06" y="899.14" width="18.16" height="20.84" fill="#7570B3"/>
<rect x="458.06" y="848" width="18.16" height="51.14" fill="#E7298A"/>
<rect x="478.01" y="945.89" width="18.16" height="39.21" fill="#1B9E77"/>
<rect x="478.01" y="920.39" width="18.16" height="25.5" fill="#D95F02"/>
<rect x="478.01" y="902.43" width="18.16" height="17.96" fill="#7570B3"/>
<rect x="478.01" y="848" width="18.16" height="54.43" fill="#E7298A"/>
<rect x="497.97" y="947.12" width="18.16" height="37.98" fill="#1B9E77"/>
<rect x="497.97" y="918.88" width="18.16" height="28.24" fill="#D95F02"/>
<rect x="497.97" y="894.48" width="18.16" height="24.4" fill="#7570B3"/>
<rect x="497.97" y="848" width="18.16" height="46.48" fill="#E7298A"/>
<rect x="517.93" y="947.12" width="18.16" height="37.98" fill="#1B9E77"/>
<rect x="517.93" y="917.78" width="18.16" height="29.34" fill="#D95F02"/>
<rect x="517.93" y="895.57" width="18.16" height="22.21" fill="#7570B3"/>
<rect x="517.93" y="848" width="18.16" height="47.57" fill="#E7298A"/>
<rect x="537.89" y="944.38" width="18.16" height="40.72" fill="#1B9E77"/>
<rect x="537.89" y="916.55" width="18.16" height="27.83" fill="#D95F02"/>
<rect x="537.89" y="889.4" width="18.16" height="27.15" fill="#7570B3"/>
<rect x="537.89" y="848" width="18.16" height="41.4" fill="#E7298A"/>
<rect x="557.84" y="943.7" width="18.16" height="41.4" fill="#1B9E77"/>
<rect x="557.84" y="916.14" width="18.16" height="27.56" fill="#D95F02"/>
<rect x="557.84" y="891.19" width="18.16" height="24.95" fill="#7570B3"/>
<rect x="557.84" y="848" width="18.16" height="43.19" fill="#E7298A"/>
<path d="M158.7 942.6h18.16M158.7 915.73h18.16M158.7 892.28h18.16M178.66 941.09h18.16M178.66 914.36h18.16M178.66 893.38h18.16M198.61 934.51h18.16M198.61 913.26h18.16M198.61 891.6h18.16M218.57 937.39h18.16M218.57 913.95h18.16M218.57 893.79h18.16M238.53 944.93h18.16M238.53 921.07h18.16M238.53 904.21h18.16M258.49 938.9h18.16M258.49 915.45h18.16M258.49 888.31h18.16M278.44 922.58h18.16M278.44 904.21h18.16M278.44 886.11h18.16M298.4 938.9h18.16M298.4 919.43h18.16M298.4 900.24h18.16M318.36 956.86h18.16M318.36 946.03h18.16M318.36 936.02h18.16M338.31 976.87h18.16M338.31 970.29h18.16M338.31 963.16h18.16M378.23 930.81h18.16M378.23 914.63h18.16M378.23 912.44h18.16M398.19 954.12h18.16M398.19 939.99h18.16M398.19 934.92h18.16M418.14 967.55h18.16M418.14 951.24h18.16M418.14 933h18.16M438.1 959.05h18.16M438.1 940.68h18.16M438.1 915.45h18.16M458.06 950.14h18.16M458.06 919.98h18.16M458.06 899.14h18.16M478.01 945.89h18.16M478.01 920.39h18.16M478.01 902.43h18.16M497.97 947.12h18.16M497.97 918.88h18.16M497.97 894.48h18.16M517.93 947.12h18.16M517.93 917.78h18.16M517.93 895.57h18.16M537.89 944.38h18.16M537.89 916.55h18.16M537.89 889.4h18.16M557.84 943.7h18.16M557.84 916.14h18.16M557.84 891.19h18.16" stroke="#fff" stroke-width="1.2" stroke-opacity="0.85" fill="none"/>
<path d="M128 848H139.9V985.1H128M128 957.68H139.9M128 930.26H139.9M128 902.84H139.9M128 875.42H139.9" stroke="#000" stroke-width="1.5" fill="none"/>
<text transform="translate(88.36,993.3)" font-size="20" fill="#000">0.0</text>
<text transform="translate(88.6,965.64)" font-size="20" fill="#000">0.2</text>
<text transform="translate(88.18,937.98)" font-size="20" fill="#000">0.4</text>
<text transform="translate(88.46,910.32)" font-size="20" fill="#000">0.6</text>
<text transform="translate(88.46,882.66)" font-size="20" fill="#000">0.8</text>
<text transform="translate(88.36,855)" font-size="20" fill="#000">1.0</text>
<text transform="translate(73.58,830.8)" font-size="22.67" fill="#000">SBS10d - C&gt;A</text>
<text transform="translate(173.08,1016.55) rotate(-90) scale(1.0400,1)" font-size="16.5" fill="#000">−10</text>
<text transform="translate(193.11,1006.86) rotate(-90) scale(1.0400,1)" font-size="16.5" fill="#000">−9</text>
<text transform="translate(213.14,1006.92) rotate(-90) scale(1.0400,1)" font-size="16.5" fill="#000">−8</text>
<text transform="translate(233.18,1006.8) rotate(-90) scale(1.0400,1)" font-size="16.5" fill="#000">−7</text>
<text transform="translate(253.21,1006.92) rotate(-90) scale(1.0400,1)" font-size="16.5" fill="#000">−6</text>
<text transform="translate(273.24,1006.96) rotate(-90) scale(1.0400,1)" font-size="16.5" fill="#000">−5</text>
<text transform="translate(293.27,1007.16) rotate(-90) scale(1.0400,1)" font-size="16.5" fill="#000">−4</text>
<text transform="translate(313.3,1006.92) rotate(-90) scale(1.0400,1)" font-size="16.5" fill="#000">−3</text>
<text transform="translate(333.34,1006.8) rotate(-90) scale(1.0400,1)" font-size="16.5" fill="#000">−2</text>
<text transform="translate(353.37,1006.84) rotate(-90) scale(1.0400,1)" font-size="16.5" fill="#000">−1</text>
<text transform="translate(373.4,996.99) rotate(-90) scale(1.0400,1)" font-size="16.5" fill="#000">0</text>
<text transform="translate(393.43,1006.84) rotate(-90) scale(1.0400,1)" font-size="16.5" fill="#000">+1</text>
<text transform="translate(413.46,1006.8) rotate(-90) scale(1.0400,1)" font-size="16.5" fill="#000">+2</text>
<text transform="translate(433.5,1006.92) rotate(-90) scale(1.0400,1)" font-size="16.5" fill="#000">+3</text>
<text transform="translate(453.53,1007.16) rotate(-90) scale(1.0400,1)" font-size="16.5" fill="#000">+4</text>
<text transform="translate(473.56,1006.96) rotate(-90) scale(1.0400,1)" font-size="16.5" fill="#000">+5</text>
<text transform="translate(493.59,1006.92) rotate(-90) scale(1.0400,1)" font-size="16.5" fill="#000">+6</text>
<text transform="translate(513.62,1006.8) rotate(-90) scale(1.0400,1)" font-size="16.5" fill="#000">+7</text>
<text transform="translate(533.66,1006.92) rotate(-90) scale(1.0400,1)" font-size="16.5" fill="#000">+8</text>
<text transform="translate(553.69,1006.86) rotate(-90) scale(1.0400,1)" font-size="16.5" fill="#000">+9</text>
<text transform="translate(573.72,1016.55) rotate(-90) scale(1.0400,1)" font-size="16.5" fill="#000">+10</text>
<text transform="translate(606.02,875.4)" font-size="22" text-anchor="start" fill="#E7298A" style="stroke:none">T</text>
<text transform="translate(605.4,909.8)" font-size="22" text-anchor="start" fill="#7570B3" style="stroke:none">G</text>
<text transform="translate(605.4,938)" font-size="22" text-anchor="start" fill="#D95F02" style="stroke:none">C</text>
<text transform="translate(606.46,972.1)" font-size="22" text-anchor="start" fill="#1B9E77" style="stroke:none">A</text>
<text transform="translate(66.6,258.35) rotate(-90)" font-size="22.54" fill="#000">Fraction of bases</text>
<text transform="translate(274.14,79.3)" font-size="22.71" fill="#000">Extended context</text>
<text transform="translate(304.74,288.2)" font-size="22.67" fill="#000">Base position</text>
<line x1="252" y1="90.6" x2="473" y2="90.6" stroke="#000" stroke-width="1.2"/>
<path d="M247.4 90.6 l8.5 -4.3 v8.6z M477.6 90.6 l-8.5 -4.3 v8.6z" fill="#000"/>
</g>
<g id="pb">
<rect x="817.5" y="106.9" width="79.3" height="71.5" fill="#1E90FF"/>
<rect x="904.8" y="178" width="79.3" height="0.9" fill="#E6E6E6"/>
<rect x="992.1" y="178" width="79.3" height="0.9" fill="#F0E6E6"/>
<rect x="1079.4" y="178" width="79.3" height="0.9" fill="#EEEEEE"/>
<rect x="1166.7" y="178" width="79.3" height="0.9" fill="#EEF2E6"/>
<rect x="1254" y="178" width="79.3" height="0.9" fill="#F3EAF3"/>
<path d="M796.7 115.6V241.1M786.3 115.6H796.7M786.3 147H796.7M786.3 178.4H796.7M786.3 209.8H796.7M786.3 241.1H796.7" stroke="#000" stroke-width="1.3" fill="none"/>
<text transform="translate(724.08,122.2)" font-size="18.2" fill="#000">20000</text>
<text transform="translate(764.57,185)" font-size="18.2" fill="#000">0</text>
<text transform="translate(713.45,247.7)" font-size="18.2" fill="#000">−20000</text>
<text x="836.07" y="108.26" font-size="20.8" letter-spacing="3.73" style="stroke:none">****</text>
<text transform="translate(1028.89,106.5)" font-size="22.54" fill="#000">SBS10a</text>
<text transform="translate(838.71,280.3)" font-size="18.2" fill="#000">C&gt;A</text>
<text transform="translate(925.65,280.3)" font-size="18.2" fill="#000">C&gt;G</text>
<text transform="translate(1013.91,280.3)" font-size="18.2" fill="#000">C&gt;T</text>
<text transform="translate(1102.47,280.3)" font-size="18.2" fill="#000">T&gt;A</text>
<text transform="translate(1189.59,280.3)" font-size="18.2" fill="#000">T&gt;C</text>
<text transform="translate(1276.62,280.3)" font-size="18.2" fill="#000">T&gt;G</text>
<text transform="translate(687.3,263.89) rotate(-90)" font-size="23.02" fill="#000">Excess Mutations</text>
<text transform="translate(706.7,149) rotate(-90)" font-size="22.43" fill="#000">leading</text>
<text transform="translate(706.7,276.91) rotate(-90)" font-size="22.59" fill="#000">lagging</text>
<rect x="816.9" y="432.9" width="79.6" height="1" fill="#B5D5F7"/>
<rect x="904.4" y="432.5" width="79.6" height="0.9" fill="#E6E6E6"/>
<rect x="991.9" y="382.7" width="79.6" height="50.2" fill="#FF0000"/>
<rect x="1079.4" y="432.5" width="79.6" height="0.9" fill="#E9E9E9"/>
<rect x="1166.9" y="432.9" width="79.6" height="6.6" fill="#9ACD32"/>
<rect x="1254.4" y="430.3" width="79.6" height="2.6" fill="#EEA9EE"/>
<path d="M796.9 370.2V495.3M785.4 370.2H796.9M785.4 401.2H796.9M785.4 432.9H796.9M785.4 464.3H796.9M785.4 495.3H796.9" stroke="#000" stroke-width="1.3" fill="none"/>
<text transform="translate(724.88,376.8)" font-size="18.2" fill="#000">20000</text>
<text transform="translate(765.37,439.5)" font-size="18.2" fill="#000">0</text>
<text transform="translate(714.25,501.9)" font-size="18.2" fill="#000">−20000</text>
<text x="1011.17" y="386.76" font-size="20.8" letter-spacing="3.43" style="stroke:none">****</text>
<text x="1182.87" y="386.76" font-size="20.8" letter-spacing="3.76" style="stroke:none">****</text>
<text x="1271.37" y="386.76" font-size="20.8" letter-spacing="3.63" style="stroke:none">****</text>
<text transform="translate(1028.67,356.3)" font-size="22.86" fill="#000">SBS10b</text>
<text transform="translate(838.61,534.6)" font-size="18.2" fill="#000">C&gt;A</text>
<text transform="translate(925.75,534.6)" font-size="18.2" fill="#000">C&gt;G</text>
<text transform="translate(1014.31,534.6)" font-size="18.2" fill="#000">C&gt;T</text>
<text transform="translate(1102.77,534.6)" font-size="18.2" fill="#000">T&gt;A</text>
<text transform="translate(1190.09,534.6)" font-size="18.2" fill="#000">T&gt;C</text>
<text transform="translate(1277.42,534.6)" font-size="18.2" fill="#000">T&gt;G</text>
<text transform="translate(687.2,517.88) rotate(-90)" font-size="22.95" fill="#000">Excess Mutations</text>
<text transform="translate(706.8,403.71) rotate(-90)" font-size="22.5" fill="#000">leading</text>
<text transform="translate(706.8,531.82) rotate(-90)" font-size="22.66" fill="#000">lagging</text>
<rect x="816.7" y="677.2" width="79.2" height="64.1" fill="#1E90FF"/>
<rect x="903.94" y="676.8" width="79.2" height="0.9" fill="#E6E6E6"/>
<rect x="991.18" y="677.2" width="79.2" height="7" fill="#FF0000"/>
<rect x="1078.42" y="654.1" width="79.2" height="23.1" fill="#B3B3B3"/>
<rect x="1165.66" y="677.2" width="79.2" height="26.8" fill="#9ACD32"/>
<rect x="1252.9" y="677.2" width="79.2" height="18.2" fill="#EEA9EE"/>
<path d="M796.3 614.5V740M784.7 614.5H796.3M784.7 645.8H796.3M784.7 677.2H796.3M784.7 708.6H796.3M784.7 740H796.3" stroke="#000" stroke-width="1.3" fill="none"/>
<text transform="translate(734.01,621.1)" font-size="18.2" fill="#000">5000</text>
<text transform="translate(764.37,683.8)" font-size="18.2" fill="#000">0</text>
<text transform="translate(723.39,746.6)" font-size="18.2" fill="#000">−5000</text>
<text x="836.27" y="658.16" font-size="20.8" letter-spacing="3.73" style="stroke:none">****</text>
<text x="1012.87" y="658.16" font-size="20.8" letter-spacing="3.53" style="stroke:none">****</text>
<text x="1098.77" y="658.16" font-size="20.8" letter-spacing="3.73" style="stroke:none">****</text>
<text x="1184.57" y="658.16" font-size="20.8" letter-spacing="3.73" style="stroke:none">****</text>
<text x="1271.37" y="658.16" font-size="20.8" letter-spacing="3.63" style="stroke:none">****</text>
<text transform="translate(1028.66,618.8)" font-size="23.04" fill="#000">SBS10c</text>
<text transform="translate(837.91,778.6)" font-size="18.2" fill="#000">C&gt;A</text>
<text transform="translate(924.85,778.6)" font-size="18.2" fill="#000">C&gt;G</text>
<text transform="translate(1012.81,778.6)" font-size="18.2" fill="#000">C&gt;T</text>
<text transform="translate(1100.87,778.6)" font-size="18.2" fill="#000">T&gt;A</text>
<text transform="translate(1188.19,778.6)" font-size="18.2" fill="#000">T&gt;C</text>
<text transform="translate(1275.02,778.6)" font-size="18.2" fill="#000">T&gt;G</text>
<text transform="translate(691,763.46) rotate(-90)" font-size="22.73" fill="#000">Excess Mutations</text>
<text transform="translate(711.3,649.03) rotate(-90)" font-size="22.79" fill="#000">leading</text>
<text transform="translate(711.3,775.82) rotate(-90)" font-size="22.72" fill="#000">lagging</text>
<rect x="820" y="914.9" width="78.3" height="74.6" fill="#1E90FF"/>
<rect x="906.6" y="914.5" width="78.3" height="0.9" fill="#DCDCDC"/>
<rect x="993.2" y="914" width="78.3" height="3.4" fill="#E31A1C"/>
<rect x="1079.8" y="914.5" width="78.3" height="0.9" fill="#DCDCDC"/>
<rect x="1166.4" y="914.6" width="78.3" height="1.3" fill="#A8C64A"/>
<rect x="1253" y="914.9" width="78.3" height="8.9" fill="#EEA9EE"/>
<path d="M799.2 852.8V977.3M788 852.8H799.2M788 883.9H799.2M788 914.9H799.2M788 945.9H799.2M788 977.3H799.2" stroke="#000" stroke-width="1.3" fill="none"/>
<text transform="translate(727.18,859.4)" font-size="18.2" fill="#000">10000</text>
<text transform="translate(767.67,921.5)" font-size="18.2" fill="#000">0</text>
<text transform="translate(716.55,983.9)" font-size="18.2" fill="#000">−10000</text>
<text x="832.97" y="897.16" font-size="20.8" letter-spacing="3.73" style="stroke:none">****</text>
<text x="1008.87" y="897.16" font-size="20.8" letter-spacing="3.76" style="stroke:none">****</text>
<text x="1181.97" y="897.16" font-size="20.8" letter-spacing="3.73" style="stroke:none">****</text>
<text x="1268.07" y="897.16" font-size="20.8" letter-spacing="3.63" style="stroke:none">****</text>
<text transform="translate(1028.66,867.7)" font-size="23.01" fill="#000">SBS10d</text>
<text transform="translate(840.31,1015.6)" font-size="18.2" fill="#000">C&gt;A</text>
<text transform="translate(926.75,1015.6)" font-size="18.2" fill="#000">C&gt;G</text>
<text transform="translate(1014.31,1015.6)" font-size="18.2" fill="#000">C&gt;T</text>
<text transform="translate(1101.77,1015.6)" font-size="18.2" fill="#000">T&gt;A</text>
<text transform="translate(1188.09,1015.6)" font-size="18.2" fill="#000">T&gt;C</text>
<text transform="translate(1274.72,1015.6)" font-size="18.2" fill="#000">T&gt;G</text>
<text transform="translate(687.3,1002.65) rotate(-90)" font-size="22.6" fill="#000">Excess Mutations</text>
<text transform="translate(706.8,887.82) rotate(-90)" font-size="22.62" fill="#000">leading</text>
<text transform="translate(706.8,1015.82) rotate(-90)" font-size="22.62" fill="#000">lagging</text>
</g>
<g id="pc">
<path d="M1509.8 82.6V278.1M1498.1 82.6H1509.8M1498.1 131.7H1509.8M1498.1 180.4H1509.8M1498.1 229H1509.8M1498.1 278.1H1509.8" stroke="#000" stroke-width="1.3" fill="none"/>
<text transform="translate(1436.88,89.2)" font-size="18.2" fill="#000">30000</text>
<text transform="translate(1477.37,187)" font-size="18.2" fill="#000">0</text>
<text transform="translate(1426.25,284.7)" font-size="18.2" fill="#000">−30000</text>
<rect x="1532.5" y="179.9" width="59.8" height="1" fill="#FBE3C4"/>
<rect x="1599" y="179.9" width="59.8" height="1" fill="#FCEBD5"/>
<rect x="1665.3" y="179.9" width="59.8" height="1" fill="#FCEBD5"/>
<rect x="1731.5" y="170.6" width="59.8" height="9.8" fill="#33A02C"/>
<rect x="1821.9" y="179.9" width="59.8" height="1" fill="#FBE3C4"/>
<rect x="1889" y="179.9" width="59.8" height="1" fill="#FCEBD5"/>
<rect x="1956.2" y="179.9" width="59.8" height="1" fill="#FCEBD5"/>
<rect x="2022" y="180.4" width="59.8" height="78.1" fill="#33A02C"/>
<text x="1539.67" y="143.46" font-size="20.8" letter-spacing="3.53" style="stroke:none">****</text>
<text x="1739.27" y="144.96" font-size="20.8" letter-spacing="3.53" style="stroke:none">****</text>
<text x="1829.87" y="143.46" font-size="20.8" letter-spacing="3.63" style="stroke:none">****</text>
<text x="2029.87" y="144.96" font-size="20.8" letter-spacing="3.63" style="stroke:none">****</text>
<text transform="translate(1632.73,78.5)" font-size="19.14" fill="#000">POLE</text>
<text transform="translate(1922.94,78.5)" font-size="19.08" fill="#000">POLD</text>
<text transform="translate(1561.06,284.2)" font-size="18.6" fill="#000">C</text>
<text transform="translate(1628.63,284.2)" font-size="18.6" fill="#000">T</text>
<text transform="translate(1694.26,284.2)" font-size="18.6" fill="#000">C</text>
<text transform="translate(1762.23,284.2)" font-size="18.6" fill="#000">T</text>
<text transform="translate(1845.16,284.2)" font-size="18.6" fill="#000">C</text>
<text transform="translate(1913.23,284.2)" font-size="18.6" fill="#000">T</text>
<text transform="translate(1978.46,284.2)" font-size="18.6" fill="#000">C</text>
<text transform="translate(2046.33,284.2)" font-size="18.6" fill="#000">T</text>
<text transform="translate(1546.09,306.8)" font-size="18.61" fill="#000">1bp Deletion</text>
<text transform="translate(1677.07,306.8)" font-size="18.79" fill="#000">1bp Insertion</text>
<text transform="translate(1836.69,306.8)" font-size="18.61" fill="#000">1bp Deletion</text>
<text transform="translate(1967.57,306.8)" font-size="18.81" fill="#000">1bp Insertion</text>
<text transform="translate(1401,274.34) rotate(-90)" font-size="22.49" fill="#000">Excess Mutations</text>
<text transform="translate(1420,160.04) rotate(-90)" font-size="22.95" fill="#000">leading</text>
<text transform="translate(1420,287.52) rotate(-90)" font-size="22.69" fill="#000">lagging</text>
</g>
<g id="pe">
<path d="M1482.2 372.5V684.2M1467.5 684.2H1482.2M1467.5 621.86H1482.2M1467.5 559.52H1482.2M1467.5 497.18H1482.2M1467.5 434.84H1482.2M1467.5 372.5H1482.2" stroke="#000" stroke-width="1.5" fill="none"/>
<text transform="translate(1439.67,692.8)" font-size="24" fill="#000">0</text>
<text transform="translate(1426.32,630.46)" font-size="24" fill="#000">20</text>
<text transform="translate(1426.32,568.12)" font-size="24" fill="#000">40</text>
<text transform="translate(1426.32,505.78)" font-size="24" fill="#000">60</text>
<text transform="translate(1426.32,443.44)" font-size="24" fill="#000">80</text>
<text transform="translate(1412.98,381.1)" font-size="24" fill="#000">100</text>
<g stroke="#fff" stroke-width="0.9">
<rect x="1502" y="679.21" width="23.5" height="4.99" fill="#1B9E77"/>
<rect x="1502" y="479.1" width="23.5" height="200.11" fill="#D95F02"/>
<rect x="1502" y="372.5" width="23.5" height="106.6" fill="#7570B3"/>
<rect x="1532.71" y="674.54" width="23.5" height="9.66" fill="#1B9E77"/>
<rect x="1532.71" y="477.23" width="23.5" height="197.31" fill="#D95F02"/>
<rect x="1532.71" y="372.5" width="23.5" height="104.73" fill="#7570B3"/>
<rect x="1563.42" y="681.08" width="23.5" height="3.12" fill="#1B9E77"/>
<rect x="1563.42" y="467.88" width="23.5" height="213.2" fill="#D95F02"/>
<rect x="1563.42" y="372.5" width="23.5" height="95.38" fill="#7570B3"/>
<rect x="1594.13" y="677.97" width="23.5" height="6.23" fill="#1B9E77"/>
<rect x="1594.13" y="482.84" width="23.5" height="195.12" fill="#D95F02"/>
<rect x="1594.13" y="372.5" width="23.5" height="110.34" fill="#7570B3"/>
<rect x="1624.84" y="679.84" width="23.5" height="4.36" fill="#1B9E77"/>
<rect x="1624.84" y="482.84" width="23.5" height="196.99" fill="#D95F02"/>
<rect x="1624.84" y="372.5" width="23.5" height="110.34" fill="#7570B3"/>
<rect x="1655.55" y="679.52" width="23.5" height="4.68" fill="#1B9E77"/>
<rect x="1655.55" y="491.88" width="23.5" height="187.64" fill="#D95F02"/>
<rect x="1655.55" y="372.5" width="23.5" height="119.38" fill="#7570B3"/>
<rect x="1686.26" y="671.73" width="23.5" height="12.47" fill="#1B9E77"/>
<rect x="1686.26" y="527.73" width="23.5" height="144.01" fill="#D95F02"/>
<rect x="1686.26" y="372.5" width="23.5" height="155.23" fill="#7570B3"/>
<rect x="1716.97" y="680.46" width="23.5" height="3.74" fill="#1B9E77"/>
<rect x="1716.97" y="489.39" width="23.5" height="191.07" fill="#D95F02"/>
<rect x="1716.97" y="372.5" width="23.5" height="116.89" fill="#7570B3"/>
<rect x="1747.68" y="450.74" width="23.5" height="233.46" fill="#D95F02"/>
<rect x="1747.68" y="372.5" width="23.5" height="78.24" fill="#7570B3"/>
<rect x="1778.39" y="679.84" width="23.5" height="4.36" fill="#1B9E77"/>
<rect x="1778.39" y="475.98" width="23.5" height="203.85" fill="#D95F02"/>
<rect x="1778.39" y="372.5" width="23.5" height="103.48" fill="#7570B3"/>
<rect x="1809.1" y="676.41" width="23.5" height="7.79" fill="#1B9E77"/>
<rect x="1809.1" y="490.95" width="23.5" height="185.46" fill="#D95F02"/>
<rect x="1809.1" y="372.5" width="23.5" height="118.45" fill="#7570B3"/>
<rect x="1839.81" y="678.28" width="23.5" height="5.92" fill="#1B9E77"/>
<rect x="1839.81" y="484.4" width="23.5" height="193.88" fill="#D95F02"/>
<rect x="1839.81" y="372.5" width="23.5" height="111.9" fill="#7570B3"/>
<rect x="1870.52" y="671.73" width="23.5" height="12.47" fill="#1B9E77"/>
<rect x="1870.52" y="495.62" width="23.5" height="176.11" fill="#D95F02"/>
<rect x="1870.52" y="372.5" width="23.5" height="123.12" fill="#7570B3"/>
<rect x="1901.23" y="678.28" width="23.5" height="5.92" fill="#1B9E77"/>
<rect x="1901.23" y="509.02" width="23.5" height="169.25" fill="#D95F02"/>
<rect x="1901.23" y="372.5" width="23.5" height="136.52" fill="#7570B3"/>
<rect x="1931.94" y="678.28" width="23.5" height="5.92" fill="#1B9E77"/>
<rect x="1931.94" y="501.86" width="23.5" height="176.42" fill="#D95F02"/>
<rect x="1931.94" y="372.5" width="23.5" height="129.36" fill="#7570B3"/>
</g>
<text transform="translate(1522.75,762.68) rotate(-90)" font-size="24" fill="#000">total</text>
<text transform="translate(1553.46,779.12) rotate(-90)" font-size="24" fill="#000">SBS1</text>
<text transform="translate(1584.17,806.98) rotate(-90)" font-size="24" fill="#000">SBS10a</text>
<text transform="translate(1614.88,805.97) rotate(-90)" font-size="24" fill="#000">SBS10b</text>
<text transform="translate(1645.59,804.99) rotate(-90)" font-size="24" fill="#000">SBS10c</text>
<text transform="translate(1676.3,805.42) rotate(-90)" font-size="24" fill="#000">SBS10d</text>
<text transform="translate(1707.01,792.46) rotate(-90)" font-size="24" fill="#000">SBS91</text>
<text transform="translate(1737.72,805.97) rotate(-90)" font-size="24" fill="#000">SBS17b</text>
<text transform="translate(1768.43,792.58) rotate(-90)" font-size="24" fill="#000">SBS28</text>
<text transform="translate(1799.14,828.58) rotate(-90)" font-size="24" fill="#000">SBS35like</text>
<text transform="translate(1829.85,779.28) rotate(-90)" font-size="24" fill="#000">SBS5</text>
<text transform="translate(1860.56,793.64) rotate(-90)" font-size="24" fill="#000">SBS7a</text>
<text transform="translate(1891.27,792.63) rotate(-90)" font-size="24" fill="#000">SBS7b</text>
<text transform="translate(1921.98,792.58) rotate(-90)" font-size="24" fill="#000">SBS88</text>
<text transform="translate(1952.69,792.48) rotate(-90)" font-size="24" fill="#000">SBS89</text>
<text transform="translate(1402,626.56) rotate(-90)" font-size="22.71" fill="#000">Percentage mutations</text>
<text transform="translate(1635.53,879.5)" font-size="22.83" fill="#000">Mutational signature</text>
<rect x="1982.2" y="376.4" width="28.9" height="28.6" fill="#7570B3"/>
<text transform="translate(2018.69,398.4)" font-size="22.9" fill="#000">Intronic</text>
<rect x="1982.2" y="419.3" width="28.9" height="28.5" fill="#D95F02"/>
<text transform="translate(2020.01,441.4)" font-size="22.7" fill="#000">Intergenic</text>
<rect x="1982.2" y="462.5" width="28.9" height="28.6" fill="#1B9E77"/>
<text transform="translate(2018.93,484.3)" font-size="22.74" fill="#000">Exonic</text>
</g>
<g id="pd">
<g fill="#D3D3D3" stroke="#2a2a2a" stroke-width="1">
<rect x="118.9" y="1450.39" width="17.05" height="0.01"/>
<rect x="135.96" y="1449.79" width="17.05" height="0.61"/>
<rect x="153.01" y="1443.13" width="17.05" height="7.27"/>
<rect x="170.06" y="1413.74" width="17.05" height="36.66"/>
<rect x="187.12" y="1363.21" width="17.05" height="87.19"/>
<rect x="204.18" y="1321.29" width="17.05" height="129.12"/>
<rect x="221.23" y="1293.54" width="17.05" height="156.86"/>
<rect x="238.28" y="1264.8" width="17.05" height="185.6"/>
<rect x="255.34" y="1267.78" width="17.05" height="182.62"/>
<rect x="272.39" y="1249.95" width="17.05" height="200.45"/>
<rect x="289.45" y="1242.01" width="17.05" height="208.39"/>
<rect x="306.5" y="1239.38" width="17.05" height="211.02"/>
<rect x="323.56" y="1230.12" width="17.05" height="220.28"/>
<rect x="340.62" y="1207.02" width="17.05" height="243.38"/>
<rect x="357.67" y="1185.22" width="17.05" height="265.18"/>
<rect x="374.73" y="1167.72" width="17.05" height="282.68"/>
<rect x="391.78" y="1141.64" width="17.05" height="308.76"/>
<rect x="408.84" y="1231.79" width="17.05" height="218.61"/>
<rect x="425.89" y="1399.54" width="17.05" height="50.86"/>
<rect x="442.95" y="1449.08" width="17.05" height="1.32"/>
</g>
<path d="M105 1146.6V1450.4M97.5 1450.4H105M97.5 1349.3H105M97.5 1248H105M97.5 1146.6H105" stroke="#222" stroke-width="1.2" fill="none"/>
<text transform="translate(81.17,1457)" font-size="18.2" fill="#000">0</text>
<text transform="translate(50.81,1355.9)" font-size="18.2" fill="#000">5000</text>
<text transform="translate(40.68,1254.6)" font-size="18.2" fill="#000">10000</text>
<text transform="translate(40.68,1153.2)" font-size="18.2" fill="#000">15000</text>
<path d="M118.9 1462.9H460M118.9 1462.9V1470.2M175.75 1462.9V1470.2M232.6 1462.9V1470.2M289.45 1462.9V1470.2M346.3 1462.9V1470.2M403.15 1462.9V1470.2M460 1462.9V1470.2" stroke="#222" stroke-width="1.2" fill="none"/>
<text transform="translate(113.83,1487.7)" font-size="18.2" fill="#000">0</text>
<text transform="translate(160.46,1487.7)" font-size="18.2" fill="#000">200</text>
<text transform="translate(217.57,1487.7)" font-size="18.2" fill="#000">400</text>
<text transform="translate(274.16,1487.7)" font-size="18.2" fill="#000">600</text>
<text transform="translate(331.08,1487.7)" font-size="18.2" fill="#000">800</text>
<text transform="translate(382.57,1487.7)" font-size="18.2" fill="#000">1000</text>
<text transform="translate(439.42,1487.7)" font-size="18.2" fill="#000">1200</text>
<text transform="translate(242.69,1146.6)" font-size="22.48" fill="#000">SBS10a</text>
<text transform="translate(210.79,1511.8)" font-size="22.84" fill="#000">replication timing</text>
<g fill="#D3D3D3" stroke="#2a2a2a" stroke-width="1">
<rect x="519.8" y="1458.29" width="17.04" height="0.01"/>
<rect x="536.84" y="1455" width="17.04" height="3.3"/>
<rect x="553.88" y="1439.47" width="17.04" height="18.83"/>
<rect x="570.92" y="1386.96" width="17.04" height="71.34"/>
<rect x="587.96" y="1296.46" width="17.04" height="161.84"/>
<rect x="605" y="1233.02" width="17.04" height="225.28"/>
<rect x="622.04" y="1197.03" width="17.04" height="261.27"/>
<rect x="639.08" y="1173.92" width="17.04" height="284.38"/>
<rect x="656.12" y="1177.87" width="17.04" height="280.43"/>
<rect x="673.16" y="1170.95" width="17.04" height="287.35"/>
<rect x="690.2" y="1160.7" width="17.04" height="297.6"/>
<rect x="707.24" y="1175.55" width="17.04" height="282.75"/>
<rect x="724.28" y="1176.89" width="17.04" height="281.41"/>
<rect x="741.32" y="1160.38" width="17.04" height="297.92"/>
<rect x="758.36" y="1153.43" width="17.04" height="304.87"/>
<rect x="775.4" y="1160.38" width="17.04" height="297.92"/>
<rect x="792.44" y="1149.8" width="17.04" height="308.5"/>
<rect x="809.48" y="1266.41" width="17.04" height="191.89"/>
<rect x="826.52" y="1412.71" width="17.04" height="45.59"/>
<rect x="843.56" y="1457.65" width="17.04" height="0.65"/>
</g>
<path d="M506.6 1185.8V1458.3M498.3 1458.3H506.6M498.3 1403.8H506.6M498.3 1349.3H506.6M498.3 1294.8H506.6M498.3 1240.3H506.6M498.3 1185.8H506.6" stroke="#222" stroke-width="1.2" fill="none"/>
<text transform="translate(481.67,1464.9)" font-size="18.2" fill="#000">0</text>
<text transform="translate(451.31,1410.4)" font-size="18.2" fill="#000">2000</text>
<text transform="translate(451.31,1355.9)" font-size="18.2" fill="#000">4000</text>
<text transform="translate(451.31,1301.4)" font-size="18.2" fill="#000">6000</text>
<text transform="translate(451.31,1246.9)" font-size="18.2" fill="#000">8000</text>
<text transform="translate(441.18,1192.4)" font-size="18.2" fill="#000">10000</text>
<path d="M519.8 1470.5H860.6M519.8 1470.5V1477.8M576.6 1470.5V1477.8M633.4 1470.5V1477.8M690.2 1470.5V1477.8M747 1470.5V1477.8M803.8 1470.5V1477.8M860.6 1470.5V1477.8" stroke="#222" stroke-width="1.2" fill="none"/>
<text transform="translate(514.73,1495.6)" font-size="18.2" fill="#000">0</text>
<text transform="translate(561.31,1495.6)" font-size="18.2" fill="#000">200</text>
<text transform="translate(618.37,1495.6)" font-size="18.2" fill="#000">400</text>
<text transform="translate(674.91,1495.6)" font-size="18.2" fill="#000">600</text>
<text transform="translate(731.78,1495.6)" font-size="18.2" fill="#000">800</text>
<text transform="translate(783.22,1495.6)" font-size="18.2" fill="#000">1000</text>
<text transform="translate(840.02,1495.6)" font-size="18.2" fill="#000">1200</text>
<text transform="translate(643.57,1144.6)" font-size="22.86" fill="#000">SBS10b</text>
<text transform="translate(626.59,1515.4)" font-size="22.94" fill="#000">replication timing</text>
<g fill="#D3D3D3" stroke="#2a2a2a" stroke-width="1">
<rect x="918.3" y="1460.19" width="16.92" height="0.01"/>
<rect x="935.22" y="1458.22" width="16.92" height="1.98"/>
<rect x="952.14" y="1447.3" width="16.92" height="12.9"/>
<rect x="969.06" y="1398.78" width="16.92" height="61.42"/>
<rect x="985.98" y="1318.86" width="16.92" height="141.34"/>
<rect x="1002.9" y="1258.79" width="16.92" height="201.41"/>
<rect x="1019.82" y="1214.89" width="16.92" height="245.31"/>
<rect x="1036.74" y="1184.47" width="16.92" height="275.73"/>
<rect x="1053.66" y="1189.78" width="16.92" height="270.42"/>
<rect x="1070.58" y="1169.29" width="16.92" height="290.91"/>
<rect x="1087.5" y="1170.93" width="16.92" height="289.27"/>
<rect x="1104.42" y="1174.25" width="16.92" height="285.95"/>
<rect x="1121.34" y="1176.59" width="16.92" height="283.61"/>
<rect x="1138.26" y="1164.97" width="16.92" height="295.23"/>
<rect x="1155.18" y="1157.09" width="16.92" height="303.11"/>
<rect x="1172.1" y="1155.11" width="16.92" height="305.09"/>
<rect x="1189.02" y="1154.11" width="16.92" height="306.09"/>
<rect x="1205.94" y="1267.02" width="16.92" height="193.18"/>
<rect x="1222.86" y="1417.58" width="16.92" height="42.62"/>
<rect x="1239.78" y="1459.56" width="16.92" height="0.64"/>
</g>
<path d="M904.6 1168.3V1460.2M896.5 1460.2H904.6M896.5 1401.8H904.6M896.5 1343.3H904.6M896.5 1284.9H904.6M896.5 1226.5H904.6M896.5 1168.3H904.6" stroke="#222" stroke-width="1.2" fill="none"/>
<text transform="translate(880.67,1466.8)" font-size="18.2" fill="#000">0</text>
<text transform="translate(850.31,1408.4)" font-size="18.2" fill="#000">1000</text>
<text transform="translate(850.31,1349.9)" font-size="18.2" fill="#000">2000</text>
<text transform="translate(850.31,1291.5)" font-size="18.2" fill="#000">3000</text>
<text transform="translate(850.31,1233.1)" font-size="18.2" fill="#000">4000</text>
<text transform="translate(850.31,1174.9)" font-size="18.2" fill="#000">5000</text>
<path d="M918.3 1472.5H1256.7M918.3 1472.5V1479.8M974.7 1472.5V1479.8M1031.1 1472.5V1479.8M1087.5 1472.5V1479.8M1143.9 1472.5V1479.8M1200.3 1472.5V1479.8M1256.7 1472.5V1479.8" stroke="#222" stroke-width="1.2" fill="none"/>
<text transform="translate(913.23,1497.2)" font-size="18.2" fill="#000">0</text>
<text transform="translate(959.41,1497.2)" font-size="18.2" fill="#000">200</text>
<text transform="translate(1016.07,1497.2)" font-size="18.2" fill="#000">400</text>
<text transform="translate(1072.21,1497.2)" font-size="18.2" fill="#000">600</text>
<text transform="translate(1128.68,1497.2)" font-size="18.2" fill="#000">800</text>
<text transform="translate(1179.72,1497.2)" font-size="18.2" fill="#000">1000</text>
<text transform="translate(1236.12,1497.2)" font-size="18.2" fill="#000">1200</text>
<text transform="translate(1042.07,1142.3)" font-size="22.84" fill="#000">SBS10c</text>
<text transform="translate(999.29,1514.4)" font-size="22.84" fill="#000">replication timing</text>
<g fill="#D3D3D3" stroke="#2a2a2a" stroke-width="1">
<rect x="1334.4" y="1460.89" width="16.93" height="0.01"/>
<rect x="1351.33" y="1458.24" width="16.93" height="2.66"/>
<rect x="1368.26" y="1446.35" width="16.93" height="14.55"/>
<rect x="1385.19" y="1391.55" width="16.93" height="69.35"/>
<rect x="1402.12" y="1303.05" width="16.93" height="157.85"/>
<rect x="1419.05" y="1237.32" width="16.93" height="223.58"/>
<rect x="1435.98" y="1194.4" width="16.93" height="266.5"/>
<rect x="1452.91" y="1175.59" width="16.93" height="285.31"/>
<rect x="1469.84" y="1176.92" width="16.93" height="283.98"/>
<rect x="1486.77" y="1158.42" width="16.93" height="302.48"/>
<rect x="1503.7" y="1162.73" width="16.93" height="298.17"/>
<rect x="1520.63" y="1161.4" width="16.93" height="299.5"/>
<rect x="1537.56" y="1179.58" width="16.93" height="281.32"/>
<rect x="1554.49" y="1155.11" width="16.93" height="305.79"/>
<rect x="1571.42" y="1158.42" width="16.93" height="302.48"/>
<rect x="1588.35" y="1166.68" width="16.93" height="294.22"/>
<rect x="1605.28" y="1174.25" width="16.93" height="286.65"/>
<rect x="1622.21" y="1275.65" width="16.93" height="185.25"/>
<rect x="1639.14" y="1422.57" width="16.93" height="38.33"/>
<rect x="1656.07" y="1460.26" width="16.93" height="0.64"/>
</g>
<path d="M1320.8 1185.5V1460.9M1312.7 1460.9H1320.8M1312.7 1415H1320.8M1312.7 1369.1H1320.8M1312.7 1323.2H1320.8M1312.7 1277.3H1320.8M1312.7 1231.4H1320.8M1312.7 1185.5H1320.8" stroke="#222" stroke-width="1.2" fill="none"/>
<text transform="translate(1296.67,1467.5)" font-size="18.2" fill="#000">0</text>
<text transform="translate(1266.31,1421.6)" font-size="18.2" fill="#000">1000</text>
<text transform="translate(1266.31,1375.7)" font-size="18.2" fill="#000">2000</text>
<text transform="translate(1266.31,1329.8)" font-size="18.2" fill="#000">3000</text>
<text transform="translate(1266.31,1283.9)" font-size="18.2" fill="#000">4000</text>
<text transform="translate(1266.31,1238)" font-size="18.2" fill="#000">5000</text>
<text transform="translate(1266.31,1192.1)" font-size="18.2" fill="#000">6000</text>
<path d="M1334.4 1473.1H1673M1334.4 1473.1V1480.4M1390.83 1473.1V1480.4M1447.27 1473.1V1480.4M1503.7 1473.1V1480.4M1560.13 1473.1V1480.4M1616.57 1473.1V1480.4M1673 1473.1V1480.4" stroke="#222" stroke-width="1.2" fill="none"/>
<text transform="translate(1329.33,1497.9)" font-size="18.2" fill="#000">0</text>
<text transform="translate(1375.55,1497.9)" font-size="18.2" fill="#000">200</text>
<text transform="translate(1432.23,1497.9)" font-size="18.2" fill="#000">400</text>
<text transform="translate(1488.41,1497.9)" font-size="18.2" fill="#000">600</text>
<text transform="translate(1544.91,1497.9)" font-size="18.2" fill="#000">800</text>
<text transform="translate(1595.98,1497.9)" font-size="18.2" fill="#000">1000</text>
<text transform="translate(1652.42,1497.9)" font-size="18.2" fill="#000">1200</text>
<text transform="translate(1460.26,1144.6)" font-size="23.01" fill="#000">SBS10d</text>
<text transform="translate(1410.29,1518.7)" font-size="22.84" fill="#000">replication timing</text>
<g fill="#D3D3D3" stroke="#2a2a2a" stroke-width="1">
<rect x="1753.3" y="1457.99" width="16.59" height="0.01"/>
<rect x="1769.88" y="1453.8" width="16.59" height="4.2"/>
<rect x="1786.47" y="1438.67" width="16.59" height="19.33"/>
<rect x="1803.06" y="1383.76" width="16.59" height="74.24"/>
<rect x="1819.64" y="1298.32" width="16.59" height="159.68"/>
<rect x="1836.22" y="1242.29" width="16.59" height="215.71"/>
<rect x="1852.81" y="1204.19" width="16.59" height="253.81"/>
<rect x="1869.39" y="1182.9" width="16.59" height="275.1"/>
<rect x="1885.98" y="1184.3" width="16.59" height="273.7"/>
<rect x="1902.57" y="1172.53" width="16.59" height="285.47"/>
<rect x="1919.15" y="1172.82" width="16.59" height="285.18"/>
<rect x="1935.73" y="1183.18" width="16.59" height="274.82"/>
<rect x="1952.32" y="1181.5" width="16.59" height="276.5"/>
<rect x="1968.9" y="1162.45" width="16.59" height="295.55"/>
<rect x="1985.49" y="1158.25" width="16.59" height="299.75"/>
<rect x="2002.08" y="1164.41" width="16.59" height="293.59"/>
<rect x="2018.66" y="1159.65" width="16.59" height="298.35"/>
<rect x="2035.24" y="1263.3" width="16.59" height="194.7"/>
<rect x="2051.83" y="1415.7" width="16.59" height="42.3"/>
<rect x="2068.41" y="1457.16" width="16.59" height="0.84"/>
</g>
<path d="M1740.5 1181.5V1458M1732.7 1458H1740.5M1732.7 1411.9H1740.5M1732.7 1365.8H1740.5M1732.7 1319.7H1740.5M1732.7 1273.6H1740.5M1732.7 1227.6H1740.5M1732.7 1181.5H1740.5" stroke="#222" stroke-width="1.2" fill="none"/>
<text transform="translate(1716.87,1464.6)" font-size="18.2" fill="#000">0</text>
<text transform="translate(1686.51,1418.5)" font-size="18.2" fill="#000">5000</text>
<text transform="translate(1676.38,1372.4)" font-size="18.2" fill="#000">10000</text>
<text transform="translate(1676.38,1326.3)" font-size="18.2" fill="#000">15000</text>
<text transform="translate(1676.38,1280.2)" font-size="18.2" fill="#000">20000</text>
<text transform="translate(1676.38,1234.2)" font-size="18.2" fill="#000">25000</text>
<text transform="translate(1676.38,1188.1)" font-size="18.2" fill="#000">30000</text>
<path d="M1753.3 1470.1H2085M1753.3 1470.1V1477.4M1808.58 1470.1V1477.4M1863.87 1470.1V1477.4M1919.15 1470.1V1477.4M1974.43 1470.1V1477.4M2029.72 1470.1V1477.4M2085 1470.1V1477.4" stroke="#222" stroke-width="1.2" fill="none"/>
<text transform="translate(1748.23,1494.4)" font-size="18.2" fill="#000">0</text>
<text transform="translate(1793.3,1494.4)" font-size="18.2" fill="#000">200</text>
<text transform="translate(1848.83,1494.4)" font-size="18.2" fill="#000">400</text>
<text transform="translate(1903.86,1494.4)" font-size="18.2" fill="#000">600</text>
<text transform="translate(1959.21,1494.4)" font-size="18.2" fill="#000">800</text>
<text transform="translate(2009.13,1494.4)" font-size="18.2" fill="#000">1000</text>
<text transform="translate(2064.42,1494.4)" font-size="18.2" fill="#000">1200</text>
<text transform="translate(1842.23,1150.4)" font-size="22.78" fill="#000">Normal controls</text>
<text transform="translate(1846.8,1521)" font-size="22.79" fill="#000">replication timing</text>
<text transform="translate(20.3,1352.54) rotate(-90)" font-size="22.43" fill="#000">Frequency</text>
</g>
<g id="labels">
<text transform="translate(0.13,38.37) scale(0.54076,0.52920)" font-size="100" fill="#000" font-weight="bold">a.</text>
<text transform="translate(618.87,40.08) scale(0.52715,0.52381)" font-size="100" fill="#000" font-weight="bold">b.</text>
<text transform="translate(1330.44,50.27) scale(0.52893,0.52555)" font-size="100" fill="#000" font-weight="bold">c.</text>
<text transform="translate(1335.43,351.48) scale(0.53168,0.51642)" font-size="100" fill="#000" font-weight="bold">e.</text>
<text transform="translate(-0.27,1118.78) scale(0.53017,0.52245)" font-size="100" fill="#000" font-weight="bold">d.</text>
</g>
</g>
</svg>
</body></html>
